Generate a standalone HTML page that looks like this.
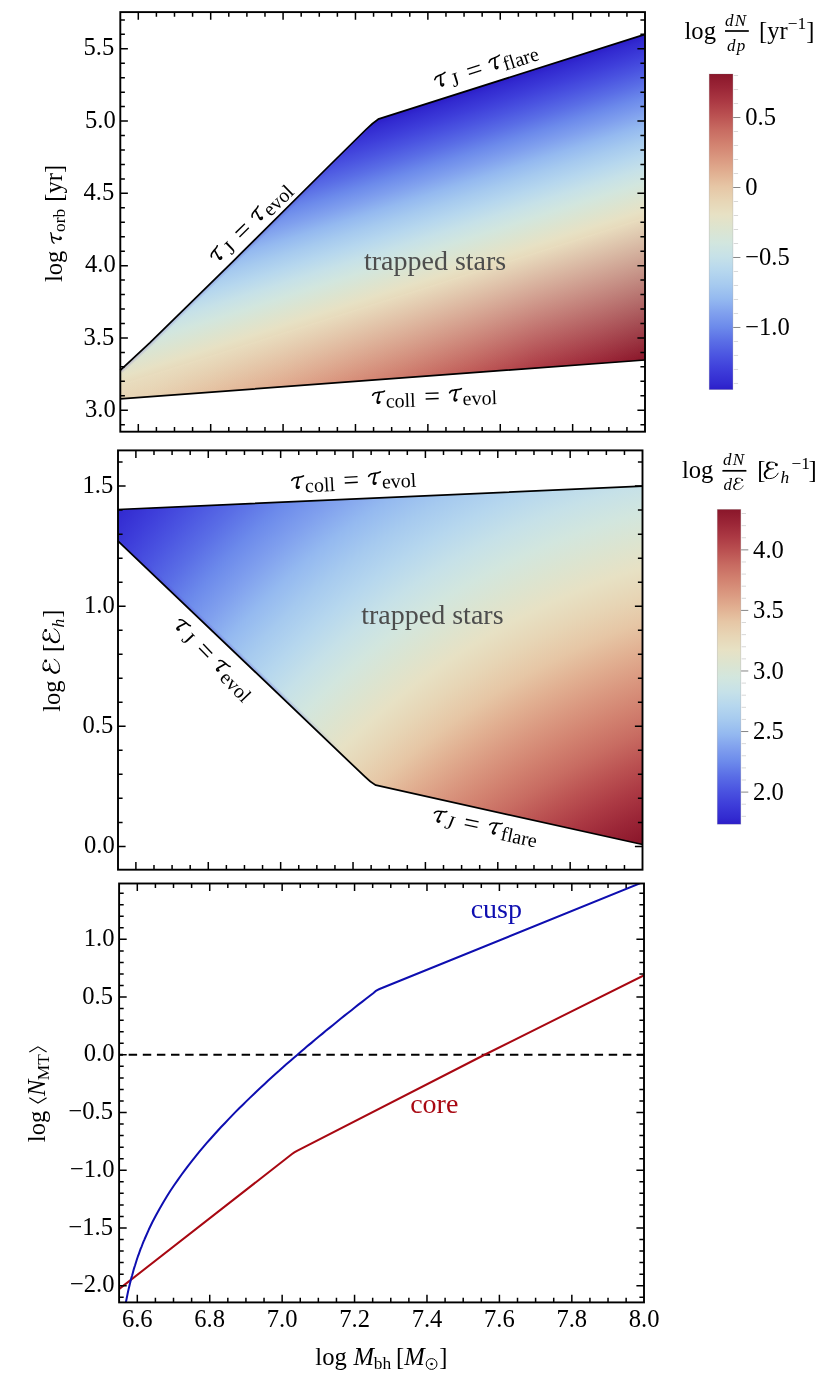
<!DOCTYPE html><html><head><meta charset="utf-8"><title>figure</title><style>
html,body{margin:0;padding:0;background:#fff}body{width:830px;height:1396px;overflow:hidden;position:relative}
svg{will-change:transform}svg,.g{position:absolute;left:0;top:0;display:block}.g{width:830px;height:1396px}
text{font-family:"Liberation Serif",serif;font-size:24.6px;fill:#000;white-space:pre}
.it{font-style:italic}.sub{font-size:17.4px}.lab{font-size:28px}.lsub{font-size:20px}
</style></head><body>
<svg width="830" height="1396" viewBox="0 0 830 1396"><defs>
<linearGradient id="cb" x1="0" y1="1" x2="0" y2="0"><stop offset="0.0000" stop-color="rgb(44,30,200)"/><stop offset="0.0196" stop-color="rgb(50,42,208)"/><stop offset="0.0642" stop-color="rgb(62,62,218)"/><stop offset="0.1087" stop-color="rgb(75,85,225)"/><stop offset="0.1533" stop-color="rgb(90,110,230)"/><stop offset="0.1979" stop-color="rgb(108,138,235)"/><stop offset="0.2424" stop-color="rgb(128,160,238)"/><stop offset="0.2870" stop-color="rgb(148,185,240)"/><stop offset="0.3316" stop-color="rgb(166,202,239)"/><stop offset="0.3761" stop-color="rgb(182,215,238)"/><stop offset="0.4207" stop-color="rgb(198,225,232)"/><stop offset="0.4652" stop-color="rgb(210,230,222)"/><stop offset="0.5098" stop-color="rgb(220,228,208)"/><stop offset="0.5544" stop-color="rgb(231,225,196)"/><stop offset="0.5989" stop-color="rgb(231,213,181)"/><stop offset="0.6435" stop-color="rgb(230,198,165)"/><stop offset="0.6881" stop-color="rgb(225,175,145)"/><stop offset="0.7326" stop-color="rgb(218,152,128)"/><stop offset="0.7772" stop-color="rgb(210,130,112)"/><stop offset="0.8217" stop-color="rgb(200,108,98)"/><stop offset="0.8663" stop-color="rgb(187,82,82)"/><stop offset="0.9109" stop-color="rgb(172,58,68)"/><stop offset="0.9554" stop-color="rgb(155,38,55)"/><stop offset="1.0000" stop-color="rgb(138,22,42)"/></linearGradient>
<linearGradient id="g1" gradientUnits="userSpaceOnUse" x1="645.00" y1="34.30" x2="736.77" y2="322.62"><stop offset="0.0000" stop-color="rgb(44,30,200)"/><stop offset="0.0196" stop-color="rgb(50,42,208)"/><stop offset="0.0642" stop-color="rgb(62,62,218)"/><stop offset="0.1087" stop-color="rgb(75,85,225)"/><stop offset="0.1533" stop-color="rgb(90,110,230)"/><stop offset="0.1979" stop-color="rgb(108,138,235)"/><stop offset="0.2424" stop-color="rgb(128,160,238)"/><stop offset="0.2870" stop-color="rgb(148,185,240)"/><stop offset="0.3316" stop-color="rgb(166,202,239)"/><stop offset="0.3761" stop-color="rgb(182,215,238)"/><stop offset="0.4207" stop-color="rgb(198,225,232)"/><stop offset="0.4652" stop-color="rgb(210,230,222)"/><stop offset="0.5098" stop-color="rgb(220,228,208)"/><stop offset="0.5544" stop-color="rgb(231,225,196)"/><stop offset="0.5989" stop-color="rgb(231,213,181)"/><stop offset="0.6435" stop-color="rgb(230,198,165)"/><stop offset="0.6881" stop-color="rgb(225,175,145)"/><stop offset="0.7326" stop-color="rgb(218,152,128)"/><stop offset="0.7772" stop-color="rgb(210,130,112)"/><stop offset="0.8217" stop-color="rgb(200,108,98)"/><stop offset="0.8663" stop-color="rgb(187,82,82)"/><stop offset="0.9109" stop-color="rgb(172,58,68)"/><stop offset="0.9554" stop-color="rgb(155,38,55)"/><stop offset="1.0000" stop-color="rgb(138,22,42)"/></linearGradient>
<clipPath id="c1"><path d="M120.2 370.3 L150 342.6 L234.3 260 L330 165 L366 129.5 Q372.5 123 378.2 119.2 L645 34.3 L645 360 L120.2 398.8 Z"/></clipPath>
<clipPath id="c2"><path d="M117.8 509.5 L642.6 486.1 L642.6 844.5 L375.8 785.2 Q370 782 364.9 776.7 L117.8 540.8 Z"/></clipPath>
<linearGradient id="cmv"><stop offset="0.0000" stop-color="rgb(44,30,200)"/><stop offset="0.0196" stop-color="rgb(50,42,208)"/><stop offset="0.0642" stop-color="rgb(62,62,218)"/><stop offset="0.1087" stop-color="rgb(75,85,225)"/><stop offset="0.1533" stop-color="rgb(90,110,230)"/><stop offset="0.1979" stop-color="rgb(108,138,235)"/><stop offset="0.2424" stop-color="rgb(128,160,238)"/><stop offset="0.2870" stop-color="rgb(148,185,240)"/><stop offset="0.3316" stop-color="rgb(166,202,239)"/><stop offset="0.3761" stop-color="rgb(182,215,238)"/><stop offset="0.4207" stop-color="rgb(198,225,232)"/><stop offset="0.4652" stop-color="rgb(210,230,222)"/><stop offset="0.5098" stop-color="rgb(220,228,208)"/><stop offset="0.5544" stop-color="rgb(231,225,196)"/><stop offset="0.5989" stop-color="rgb(231,213,181)"/><stop offset="0.6435" stop-color="rgb(230,198,165)"/><stop offset="0.6881" stop-color="rgb(225,175,145)"/><stop offset="0.7326" stop-color="rgb(218,152,128)"/><stop offset="0.7772" stop-color="rgb(210,130,112)"/><stop offset="0.8217" stop-color="rgb(200,108,98)"/><stop offset="0.8663" stop-color="rgb(187,82,82)"/><stop offset="0.9109" stop-color="rgb(172,58,68)"/><stop offset="0.9554" stop-color="rgb(155,38,55)"/><stop offset="1.0000" stop-color="rgb(138,22,42)"/></linearGradient>
<linearGradient id="q0" href="#cmv" xlink:href="#cmv" gradientUnits="userSpaceOnUse" x1="0" y1="493.4" x2="0" y2="1551.5"/>
<linearGradient id="q1" href="#cmv" xlink:href="#cmv" gradientUnits="userSpaceOnUse" x1="0" y1="490.8" x2="0" y2="1546.0"/>
<linearGradient id="q2" href="#cmv" xlink:href="#cmv" gradientUnits="userSpaceOnUse" x1="0" y1="488.2" x2="0" y2="1540.6"/>
<linearGradient id="q3" href="#cmv" xlink:href="#cmv" gradientUnits="userSpaceOnUse" x1="0" y1="485.6" x2="0" y2="1535.1"/>
<linearGradient id="q4" href="#cmv" xlink:href="#cmv" gradientUnits="userSpaceOnUse" x1="0" y1="483.0" x2="0" y2="1529.8"/>
<linearGradient id="q5" href="#cmv" xlink:href="#cmv" gradientUnits="userSpaceOnUse" x1="0" y1="480.5" x2="0" y2="1524.4"/>
<linearGradient id="q6" href="#cmv" xlink:href="#cmv" gradientUnits="userSpaceOnUse" x1="0" y1="478.0" x2="0" y2="1519.1"/>
<linearGradient id="q7" href="#cmv" xlink:href="#cmv" gradientUnits="userSpaceOnUse" x1="0" y1="475.5" x2="0" y2="1513.8"/>
<linearGradient id="q8" href="#cmv" xlink:href="#cmv" gradientUnits="userSpaceOnUse" x1="0" y1="473.0" x2="0" y2="1508.5"/>
<linearGradient id="q9" href="#cmv" xlink:href="#cmv" gradientUnits="userSpaceOnUse" x1="0" y1="470.5" x2="0" y2="1503.3"/>
<linearGradient id="q10" href="#cmv" xlink:href="#cmv" gradientUnits="userSpaceOnUse" x1="0" y1="468.1" x2="0" y2="1498.1"/>
<linearGradient id="q11" href="#cmv" xlink:href="#cmv" gradientUnits="userSpaceOnUse" x1="0" y1="465.7" x2="0" y2="1493.0"/>
<linearGradient id="q12" href="#cmv" xlink:href="#cmv" gradientUnits="userSpaceOnUse" x1="0" y1="463.3" x2="0" y2="1487.9"/>
<linearGradient id="q13" href="#cmv" xlink:href="#cmv" gradientUnits="userSpaceOnUse" x1="0" y1="460.9" x2="0" y2="1482.8"/>
<linearGradient id="q14" href="#cmv" xlink:href="#cmv" gradientUnits="userSpaceOnUse" x1="0" y1="458.5" x2="0" y2="1477.8"/>
<linearGradient id="q15" href="#cmv" xlink:href="#cmv" gradientUnits="userSpaceOnUse" x1="0" y1="456.1" x2="0" y2="1472.7"/>
<linearGradient id="q16" href="#cmv" xlink:href="#cmv" gradientUnits="userSpaceOnUse" x1="0" y1="453.8" x2="0" y2="1467.8"/>
<linearGradient id="q17" href="#cmv" xlink:href="#cmv" gradientUnits="userSpaceOnUse" x1="0" y1="451.5" x2="0" y2="1462.8"/>
<linearGradient id="q18" href="#cmv" xlink:href="#cmv" gradientUnits="userSpaceOnUse" x1="0" y1="449.2" x2="0" y2="1457.9"/>
<linearGradient id="q19" href="#cmv" xlink:href="#cmv" gradientUnits="userSpaceOnUse" x1="0" y1="446.9" x2="0" y2="1453.0"/>
<linearGradient id="q20" href="#cmv" xlink:href="#cmv" gradientUnits="userSpaceOnUse" x1="0" y1="444.7" x2="0" y2="1448.1"/>
<linearGradient id="q21" href="#cmv" xlink:href="#cmv" gradientUnits="userSpaceOnUse" x1="0" y1="442.4" x2="0" y2="1443.3"/>
<linearGradient id="q22" href="#cmv" xlink:href="#cmv" gradientUnits="userSpaceOnUse" x1="0" y1="440.2" x2="0" y2="1438.5"/>
<linearGradient id="q23" href="#cmv" xlink:href="#cmv" gradientUnits="userSpaceOnUse" x1="0" y1="438.0" x2="0" y2="1433.8"/>
<linearGradient id="q24" href="#cmv" xlink:href="#cmv" gradientUnits="userSpaceOnUse" x1="0" y1="435.8" x2="0" y2="1429.0"/>
<linearGradient id="q25" href="#cmv" xlink:href="#cmv" gradientUnits="userSpaceOnUse" x1="0" y1="433.7" x2="0" y2="1424.3"/>
<linearGradient id="q26" href="#cmv" xlink:href="#cmv" gradientUnits="userSpaceOnUse" x1="0" y1="431.5" x2="0" y2="1419.7"/>
<linearGradient id="q27" href="#cmv" xlink:href="#cmv" gradientUnits="userSpaceOnUse" x1="0" y1="429.4" x2="0" y2="1415.0"/>
<linearGradient id="q28" href="#cmv" xlink:href="#cmv" gradientUnits="userSpaceOnUse" x1="0" y1="427.3" x2="0" y2="1410.4"/>
<linearGradient id="q29" href="#cmv" xlink:href="#cmv" gradientUnits="userSpaceOnUse" x1="0" y1="425.2" x2="0" y2="1405.8"/>
<linearGradient id="q30" href="#cmv" xlink:href="#cmv" gradientUnits="userSpaceOnUse" x1="0" y1="423.1" x2="0" y2="1401.3"/>
<linearGradient id="q31" href="#cmv" xlink:href="#cmv" gradientUnits="userSpaceOnUse" x1="0" y1="421.0" x2="0" y2="1396.8"/>
<linearGradient id="q32" href="#cmv" xlink:href="#cmv" gradientUnits="userSpaceOnUse" x1="0" y1="419.0" x2="0" y2="1392.3"/>
<linearGradient id="q33" href="#cmv" xlink:href="#cmv" gradientUnits="userSpaceOnUse" x1="0" y1="416.9" x2="0" y2="1387.8"/>
<linearGradient id="q34" href="#cmv" xlink:href="#cmv" gradientUnits="userSpaceOnUse" x1="0" y1="414.9" x2="0" y2="1383.4"/>
<linearGradient id="q35" href="#cmv" xlink:href="#cmv" gradientUnits="userSpaceOnUse" x1="0" y1="412.9" x2="0" y2="1379.0"/>
<linearGradient id="q36" href="#cmv" xlink:href="#cmv" gradientUnits="userSpaceOnUse" x1="0" y1="410.9" x2="0" y2="1374.6"/>
<linearGradient id="q37" href="#cmv" xlink:href="#cmv" gradientUnits="userSpaceOnUse" x1="0" y1="409.0" x2="0" y2="1370.2"/>
<linearGradient id="q38" href="#cmv" xlink:href="#cmv" gradientUnits="userSpaceOnUse" x1="0" y1="407.0" x2="0" y2="1365.9"/>
<linearGradient id="q39" href="#cmv" xlink:href="#cmv" gradientUnits="userSpaceOnUse" x1="0" y1="405.1" x2="0" y2="1361.6"/>
<linearGradient id="q40" href="#cmv" xlink:href="#cmv" gradientUnits="userSpaceOnUse" x1="0" y1="403.2" x2="0" y2="1357.4"/>
<linearGradient id="q41" href="#cmv" xlink:href="#cmv" gradientUnits="userSpaceOnUse" x1="0" y1="401.3" x2="0" y2="1353.1"/>
<linearGradient id="q42" href="#cmv" xlink:href="#cmv" gradientUnits="userSpaceOnUse" x1="0" y1="399.4" x2="0" y2="1348.9"/>
<linearGradient id="q43" href="#cmv" xlink:href="#cmv" gradientUnits="userSpaceOnUse" x1="0" y1="397.5" x2="0" y2="1344.7"/>
<linearGradient id="q44" href="#cmv" xlink:href="#cmv" gradientUnits="userSpaceOnUse" x1="0" y1="395.6" x2="0" y2="1340.5"/>
<linearGradient id="q45" href="#cmv" xlink:href="#cmv" gradientUnits="userSpaceOnUse" x1="0" y1="393.8" x2="0" y2="1336.4"/>
<linearGradient id="q46" href="#cmv" xlink:href="#cmv" gradientUnits="userSpaceOnUse" x1="0" y1="392.0" x2="0" y2="1332.3"/>
<linearGradient id="q47" href="#cmv" xlink:href="#cmv" gradientUnits="userSpaceOnUse" x1="0" y1="390.1" x2="0" y2="1328.2"/>
<linearGradient id="q48" href="#cmv" xlink:href="#cmv" gradientUnits="userSpaceOnUse" x1="0" y1="388.3" x2="0" y2="1324.2"/>
<linearGradient id="q49" href="#cmv" xlink:href="#cmv" gradientUnits="userSpaceOnUse" x1="0" y1="386.6" x2="0" y2="1320.1"/>
<linearGradient id="q50" href="#cmv" xlink:href="#cmv" gradientUnits="userSpaceOnUse" x1="0" y1="384.8" x2="0" y2="1316.1"/>
<linearGradient id="q51" href="#cmv" xlink:href="#cmv" gradientUnits="userSpaceOnUse" x1="0" y1="383.0" x2="0" y2="1312.1"/>
<linearGradient id="q52" href="#cmv" xlink:href="#cmv" gradientUnits="userSpaceOnUse" x1="0" y1="381.3" x2="0" y2="1308.2"/>
<linearGradient id="q53" href="#cmv" xlink:href="#cmv" gradientUnits="userSpaceOnUse" x1="0" y1="379.6" x2="0" y2="1304.2"/>
<linearGradient id="q54" href="#cmv" xlink:href="#cmv" gradientUnits="userSpaceOnUse" x1="0" y1="377.9" x2="0" y2="1300.3"/>
<linearGradient id="q55" href="#cmv" xlink:href="#cmv" gradientUnits="userSpaceOnUse" x1="0" y1="376.2" x2="0" y2="1296.4"/>
<linearGradient id="q56" href="#cmv" xlink:href="#cmv" gradientUnits="userSpaceOnUse" x1="0" y1="374.5" x2="0" y2="1292.6"/>
<linearGradient id="q57" href="#cmv" xlink:href="#cmv" gradientUnits="userSpaceOnUse" x1="0" y1="372.8" x2="0" y2="1288.7"/>
<linearGradient id="q58" href="#cmv" xlink:href="#cmv" gradientUnits="userSpaceOnUse" x1="0" y1="371.1" x2="0" y2="1284.9"/>
<linearGradient id="q59" href="#cmv" xlink:href="#cmv" gradientUnits="userSpaceOnUse" x1="0" y1="369.5" x2="0" y2="1281.1"/>
<linearGradient id="q60" href="#cmv" xlink:href="#cmv" gradientUnits="userSpaceOnUse" x1="0" y1="367.9" x2="0" y2="1277.4"/>
<linearGradient id="q61" href="#cmv" xlink:href="#cmv" gradientUnits="userSpaceOnUse" x1="0" y1="366.2" x2="0" y2="1273.6"/>
<linearGradient id="q62" href="#cmv" xlink:href="#cmv" gradientUnits="userSpaceOnUse" x1="0" y1="364.6" x2="0" y2="1269.9"/>
<linearGradient id="q63" href="#cmv" xlink:href="#cmv" gradientUnits="userSpaceOnUse" x1="0" y1="363.0" x2="0" y2="1266.2"/>
<linearGradient id="q64" href="#cmv" xlink:href="#cmv" gradientUnits="userSpaceOnUse" x1="0" y1="361.5" x2="0" y2="1262.6"/>
<linearGradient id="q65" href="#cmv" xlink:href="#cmv" gradientUnits="userSpaceOnUse" x1="0" y1="359.9" x2="0" y2="1258.9"/>
<linearGradient id="q66" href="#cmv" xlink:href="#cmv" gradientUnits="userSpaceOnUse" x1="0" y1="358.4" x2="0" y2="1255.3"/>
<linearGradient id="q67" href="#cmv" xlink:href="#cmv" gradientUnits="userSpaceOnUse" x1="0" y1="356.8" x2="0" y2="1251.7"/>
<linearGradient id="q68" href="#cmv" xlink:href="#cmv" gradientUnits="userSpaceOnUse" x1="0" y1="355.3" x2="0" y2="1248.1"/>
<linearGradient id="q69" href="#cmv" xlink:href="#cmv" gradientUnits="userSpaceOnUse" x1="0" y1="353.8" x2="0" y2="1244.5"/>
<linearGradient id="q70" href="#cmv" xlink:href="#cmv" gradientUnits="userSpaceOnUse" x1="0" y1="352.3" x2="0" y2="1241.0"/>
<linearGradient id="q71" href="#cmv" xlink:href="#cmv" gradientUnits="userSpaceOnUse" x1="0" y1="350.8" x2="0" y2="1237.5"/>
<linearGradient id="q72" href="#cmv" xlink:href="#cmv" gradientUnits="userSpaceOnUse" x1="0" y1="349.3" x2="0" y2="1234.0"/>
<linearGradient id="q73" href="#cmv" xlink:href="#cmv" gradientUnits="userSpaceOnUse" x1="0" y1="347.8" x2="0" y2="1230.5"/>
<linearGradient id="q74" href="#cmv" xlink:href="#cmv" gradientUnits="userSpaceOnUse" x1="0" y1="346.4" x2="0" y2="1227.1"/>
<linearGradient id="q75" href="#cmv" xlink:href="#cmv" gradientUnits="userSpaceOnUse" x1="0" y1="345.0" x2="0" y2="1223.6"/>
<linearGradient id="q76" href="#cmv" xlink:href="#cmv" gradientUnits="userSpaceOnUse" x1="0" y1="343.5" x2="0" y2="1220.2"/>
<linearGradient id="q77" href="#cmv" xlink:href="#cmv" gradientUnits="userSpaceOnUse" x1="0" y1="342.1" x2="0" y2="1216.8"/>
<linearGradient id="q78" href="#cmv" xlink:href="#cmv" gradientUnits="userSpaceOnUse" x1="0" y1="340.7" x2="0" y2="1213.5"/>
<linearGradient id="q79" href="#cmv" xlink:href="#cmv" gradientUnits="userSpaceOnUse" x1="0" y1="339.3" x2="0" y2="1210.1"/>
<linearGradient id="q80" href="#cmv" xlink:href="#cmv" gradientUnits="userSpaceOnUse" x1="0" y1="337.9" x2="0" y2="1206.8"/>
<linearGradient id="q81" href="#cmv" xlink:href="#cmv" gradientUnits="userSpaceOnUse" x1="0" y1="336.6" x2="0" y2="1203.5"/>
<linearGradient id="q82" href="#cmv" xlink:href="#cmv" gradientUnits="userSpaceOnUse" x1="0" y1="335.2" x2="0" y2="1200.2"/>
<linearGradient id="q83" href="#cmv" xlink:href="#cmv" gradientUnits="userSpaceOnUse" x1="0" y1="333.9" x2="0" y2="1196.9"/>
<linearGradient id="q84" href="#cmv" xlink:href="#cmv" gradientUnits="userSpaceOnUse" x1="0" y1="332.5" x2="0" y2="1193.7"/>
<linearGradient id="q85" href="#cmv" xlink:href="#cmv" gradientUnits="userSpaceOnUse" x1="0" y1="331.2" x2="0" y2="1190.5"/>
<linearGradient id="q86" href="#cmv" xlink:href="#cmv" gradientUnits="userSpaceOnUse" x1="0" y1="329.9" x2="0" y2="1187.3"/>
<linearGradient id="q87" href="#cmv" xlink:href="#cmv" gradientUnits="userSpaceOnUse" x1="0" y1="328.6" x2="0" y2="1184.1"/>
<linearGradient id="q88" href="#cmv" xlink:href="#cmv" gradientUnits="userSpaceOnUse" x1="0" y1="327.3" x2="0" y2="1180.9"/>
<linearGradient id="q89" href="#cmv" xlink:href="#cmv" gradientUnits="userSpaceOnUse" x1="0" y1="326.0" x2="0" y2="1177.8"/>
<linearGradient id="q90" href="#cmv" xlink:href="#cmv" gradientUnits="userSpaceOnUse" x1="0" y1="324.8" x2="0" y2="1174.6"/>
<linearGradient id="q91" href="#cmv" xlink:href="#cmv" gradientUnits="userSpaceOnUse" x1="0" y1="323.5" x2="0" y2="1171.5"/>
<linearGradient id="q92" href="#cmv" xlink:href="#cmv" gradientUnits="userSpaceOnUse" x1="0" y1="322.3" x2="0" y2="1168.4"/>
<linearGradient id="q93" href="#cmv" xlink:href="#cmv" gradientUnits="userSpaceOnUse" x1="0" y1="321.0" x2="0" y2="1165.4"/>
<linearGradient id="q94" href="#cmv" xlink:href="#cmv" gradientUnits="userSpaceOnUse" x1="0" y1="319.8" x2="0" y2="1162.3"/>
<linearGradient id="q95" href="#cmv" xlink:href="#cmv" gradientUnits="userSpaceOnUse" x1="0" y1="318.6" x2="0" y2="1159.3"/>
<linearGradient id="q96" href="#cmv" xlink:href="#cmv" gradientUnits="userSpaceOnUse" x1="0" y1="317.4" x2="0" y2="1156.3"/>
<linearGradient id="q97" href="#cmv" xlink:href="#cmv" gradientUnits="userSpaceOnUse" x1="0" y1="316.2" x2="0" y2="1153.3"/>
<linearGradient id="q98" href="#cmv" xlink:href="#cmv" gradientUnits="userSpaceOnUse" x1="0" y1="315.0" x2="0" y2="1150.3"/>
<linearGradient id="q99" href="#cmv" xlink:href="#cmv" gradientUnits="userSpaceOnUse" x1="0" y1="313.9" x2="0" y2="1147.3"/>
<linearGradient id="q100" href="#cmv" xlink:href="#cmv" gradientUnits="userSpaceOnUse" x1="0" y1="312.7" x2="0" y2="1144.4"/>
<linearGradient id="q101" href="#cmv" xlink:href="#cmv" gradientUnits="userSpaceOnUse" x1="0" y1="311.6" x2="0" y2="1141.4"/>
<linearGradient id="q102" href="#cmv" xlink:href="#cmv" gradientUnits="userSpaceOnUse" x1="0" y1="310.4" x2="0" y2="1138.5"/>
<linearGradient id="q103" href="#cmv" xlink:href="#cmv" gradientUnits="userSpaceOnUse" x1="0" y1="309.3" x2="0" y2="1135.6"/>
<linearGradient id="q104" href="#cmv" xlink:href="#cmv" gradientUnits="userSpaceOnUse" x1="0" y1="308.2" x2="0" y2="1132.8"/>
<linearGradient id="q105" href="#cmv" xlink:href="#cmv" gradientUnits="userSpaceOnUse" x1="0" y1="307.1" x2="0" y2="1129.9"/>
<linearGradient id="q106" href="#cmv" xlink:href="#cmv" gradientUnits="userSpaceOnUse" x1="0" y1="306.0" x2="0" y2="1127.1"/>
<linearGradient id="q107" href="#cmv" xlink:href="#cmv" gradientUnits="userSpaceOnUse" x1="0" y1="304.9" x2="0" y2="1124.3"/>
<linearGradient id="q108" href="#cmv" xlink:href="#cmv" gradientUnits="userSpaceOnUse" x1="0" y1="303.8" x2="0" y2="1121.5"/>
<linearGradient id="q109" href="#cmv" xlink:href="#cmv" gradientUnits="userSpaceOnUse" x1="0" y1="302.7" x2="0" y2="1118.7"/>
<linearGradient id="q110" href="#cmv" xlink:href="#cmv" gradientUnits="userSpaceOnUse" x1="0" y1="301.7" x2="0" y2="1115.9"/>
<linearGradient id="q111" href="#cmv" xlink:href="#cmv" gradientUnits="userSpaceOnUse" x1="0" y1="300.6" x2="0" y2="1113.2"/>
<linearGradient id="q112" href="#cmv" xlink:href="#cmv" gradientUnits="userSpaceOnUse" x1="0" y1="299.6" x2="0" y2="1110.4"/>
<linearGradient id="q113" href="#cmv" xlink:href="#cmv" gradientUnits="userSpaceOnUse" x1="0" y1="298.5" x2="0" y2="1107.7"/>
<linearGradient id="q114" href="#cmv" xlink:href="#cmv" gradientUnits="userSpaceOnUse" x1="0" y1="297.5" x2="0" y2="1105.0"/>
<linearGradient id="q115" href="#cmv" xlink:href="#cmv" gradientUnits="userSpaceOnUse" x1="0" y1="296.5" x2="0" y2="1102.3"/>
<linearGradient id="q116" href="#cmv" xlink:href="#cmv" gradientUnits="userSpaceOnUse" x1="0" y1="295.5" x2="0" y2="1099.6"/>
<linearGradient id="q117" href="#cmv" xlink:href="#cmv" gradientUnits="userSpaceOnUse" x1="0" y1="294.5" x2="0" y2="1097.0"/>
<linearGradient id="q118" href="#cmv" xlink:href="#cmv" gradientUnits="userSpaceOnUse" x1="0" y1="293.5" x2="0" y2="1094.3"/>
<linearGradient id="q119" href="#cmv" xlink:href="#cmv" gradientUnits="userSpaceOnUse" x1="0" y1="292.6" x2="0" y2="1091.7"/>
<linearGradient id="q120" href="#cmv" xlink:href="#cmv" gradientUnits="userSpaceOnUse" x1="0" y1="291.6" x2="0" y2="1089.1"/>
<linearGradient id="q121" href="#cmv" xlink:href="#cmv" gradientUnits="userSpaceOnUse" x1="0" y1="290.6" x2="0" y2="1086.5"/>
<linearGradient id="q122" href="#cmv" xlink:href="#cmv" gradientUnits="userSpaceOnUse" x1="0" y1="289.7" x2="0" y2="1084.0"/>
<linearGradient id="q123" href="#cmv" xlink:href="#cmv" gradientUnits="userSpaceOnUse" x1="0" y1="288.7" x2="0" y2="1081.4"/>
<linearGradient id="q124" href="#cmv" xlink:href="#cmv" gradientUnits="userSpaceOnUse" x1="0" y1="287.8" x2="0" y2="1078.9"/>
<linearGradient id="q125" href="#cmv" xlink:href="#cmv" gradientUnits="userSpaceOnUse" x1="0" y1="286.9" x2="0" y2="1076.3"/>
<linearGradient id="q126" href="#cmv" xlink:href="#cmv" gradientUnits="userSpaceOnUse" x1="0" y1="286.0" x2="0" y2="1073.8"/>
<linearGradient id="q127" href="#cmv" xlink:href="#cmv" gradientUnits="userSpaceOnUse" x1="0" y1="285.1" x2="0" y2="1071.3"/>
<linearGradient id="q128" href="#cmv" xlink:href="#cmv" gradientUnits="userSpaceOnUse" x1="0" y1="284.2" x2="0" y2="1068.8"/>
<linearGradient id="q129" href="#cmv" xlink:href="#cmv" gradientUnits="userSpaceOnUse" x1="0" y1="283.3" x2="0" y2="1066.4"/>
<linearGradient id="q130" href="#cmv" xlink:href="#cmv" gradientUnits="userSpaceOnUse" x1="0" y1="282.4" x2="0" y2="1063.9"/>
<linearGradient id="q131" href="#cmv" xlink:href="#cmv" gradientUnits="userSpaceOnUse" x1="0" y1="281.5" x2="0" y2="1061.5"/>
<linearGradient id="q132" href="#cmv" xlink:href="#cmv" gradientUnits="userSpaceOnUse" x1="0" y1="280.7" x2="0" y2="1059.0"/>
<linearGradient id="q133" href="#cmv" xlink:href="#cmv" gradientUnits="userSpaceOnUse" x1="0" y1="279.8" x2="0" y2="1056.6"/>
<linearGradient id="q134" href="#cmv" xlink:href="#cmv" gradientUnits="userSpaceOnUse" x1="0" y1="279.0" x2="0" y2="1054.2"/>
<linearGradient id="q135" href="#cmv" xlink:href="#cmv" gradientUnits="userSpaceOnUse" x1="0" y1="278.1" x2="0" y2="1051.9"/>
<linearGradient id="q136" href="#cmv" xlink:href="#cmv" gradientUnits="userSpaceOnUse" x1="0" y1="277.3" x2="0" y2="1049.5"/>
<linearGradient id="q137" href="#cmv" xlink:href="#cmv" gradientUnits="userSpaceOnUse" x1="0" y1="276.5" x2="0" y2="1047.2"/>
<linearGradient id="q138" href="#cmv" xlink:href="#cmv" gradientUnits="userSpaceOnUse" x1="0" y1="275.7" x2="0" y2="1044.8"/>
<linearGradient id="q139" href="#cmv" xlink:href="#cmv" gradientUnits="userSpaceOnUse" x1="0" y1="274.9" x2="0" y2="1042.5"/>
<linearGradient id="q140" href="#cmv" xlink:href="#cmv" gradientUnits="userSpaceOnUse" x1="0" y1="274.1" x2="0" y2="1040.2"/>
<linearGradient id="q141" href="#cmv" xlink:href="#cmv" gradientUnits="userSpaceOnUse" x1="0" y1="273.3" x2="0" y2="1037.9"/>
<linearGradient id="q142" href="#cmv" xlink:href="#cmv" gradientUnits="userSpaceOnUse" x1="0" y1="272.5" x2="0" y2="1035.6"/>
<linearGradient id="q143" href="#cmv" xlink:href="#cmv" gradientUnits="userSpaceOnUse" x1="0" y1="271.8" x2="0" y2="1033.3"/>
<linearGradient id="q144" href="#cmv" xlink:href="#cmv" gradientUnits="userSpaceOnUse" x1="0" y1="271.0" x2="0" y2="1031.1"/>
<linearGradient id="q145" href="#cmv" xlink:href="#cmv" gradientUnits="userSpaceOnUse" x1="0" y1="270.2" x2="0" y2="1028.8"/>
<linearGradient id="q146" href="#cmv" xlink:href="#cmv" gradientUnits="userSpaceOnUse" x1="0" y1="269.5" x2="0" y2="1026.6"/>
<linearGradient id="q147" href="#cmv" xlink:href="#cmv" gradientUnits="userSpaceOnUse" x1="0" y1="268.7" x2="0" y2="1024.4"/>
<linearGradient id="q148" href="#cmv" xlink:href="#cmv" gradientUnits="userSpaceOnUse" x1="0" y1="268.0" x2="0" y2="1022.2"/>
<linearGradient id="q149" href="#cmv" xlink:href="#cmv" gradientUnits="userSpaceOnUse" x1="0" y1="267.3" x2="0" y2="1020.0"/>
<linearGradient id="q150" href="#cmv" xlink:href="#cmv" gradientUnits="userSpaceOnUse" x1="0" y1="266.6" x2="0" y2="1017.9"/>
<linearGradient id="q151" href="#cmv" xlink:href="#cmv" gradientUnits="userSpaceOnUse" x1="0" y1="265.9" x2="0" y2="1015.7"/>
<linearGradient id="q152" href="#cmv" xlink:href="#cmv" gradientUnits="userSpaceOnUse" x1="0" y1="265.2" x2="0" y2="1013.6"/>
<linearGradient id="q153" href="#cmv" xlink:href="#cmv" gradientUnits="userSpaceOnUse" x1="0" y1="264.5" x2="0" y2="1011.4"/>
<linearGradient id="q154" href="#cmv" xlink:href="#cmv" gradientUnits="userSpaceOnUse" x1="0" y1="263.8" x2="0" y2="1009.3"/>
<linearGradient id="q155" href="#cmv" xlink:href="#cmv" gradientUnits="userSpaceOnUse" x1="0" y1="263.1" x2="0" y2="1007.2"/>
<linearGradient id="q156" href="#cmv" xlink:href="#cmv" gradientUnits="userSpaceOnUse" x1="0" y1="262.4" x2="0" y2="1005.1"/>
<linearGradient id="q157" href="#cmv" xlink:href="#cmv" gradientUnits="userSpaceOnUse" x1="0" y1="261.8" x2="0" y2="1003.0"/>
<linearGradient id="q158" href="#cmv" xlink:href="#cmv" gradientUnits="userSpaceOnUse" x1="0" y1="261.1" x2="0" y2="1000.9"/>
<linearGradient id="q159" href="#cmv" xlink:href="#cmv" gradientUnits="userSpaceOnUse" x1="0" y1="260.5" x2="0" y2="998.9"/>
<linearGradient id="q160" href="#cmv" xlink:href="#cmv" gradientUnits="userSpaceOnUse" x1="0" y1="259.8" x2="0" y2="996.8"/>
<linearGradient id="q161" href="#cmv" xlink:href="#cmv" gradientUnits="userSpaceOnUse" x1="0" y1="259.2" x2="0" y2="994.8"/>
<linearGradient id="q162" href="#cmv" xlink:href="#cmv" gradientUnits="userSpaceOnUse" x1="0" y1="258.5" x2="0" y2="992.8"/>
<linearGradient id="q163" href="#cmv" xlink:href="#cmv" gradientUnits="userSpaceOnUse" x1="0" y1="257.9" x2="0" y2="990.8"/>
<linearGradient id="q164" href="#cmv" xlink:href="#cmv" gradientUnits="userSpaceOnUse" x1="0" y1="257.3" x2="0" y2="988.8"/>
<linearGradient id="q165" href="#cmv" xlink:href="#cmv" gradientUnits="userSpaceOnUse" x1="0" y1="256.7" x2="0" y2="986.8"/>
<linearGradient id="q166" href="#cmv" xlink:href="#cmv" gradientUnits="userSpaceOnUse" x1="0" y1="256.1" x2="0" y2="984.8"/>
<linearGradient id="q167" href="#cmv" xlink:href="#cmv" gradientUnits="userSpaceOnUse" x1="0" y1="255.5" x2="0" y2="982.9"/>
<linearGradient id="q168" href="#cmv" xlink:href="#cmv" gradientUnits="userSpaceOnUse" x1="0" y1="254.9" x2="0" y2="980.9"/>
<linearGradient id="q169" href="#cmv" xlink:href="#cmv" gradientUnits="userSpaceOnUse" x1="0" y1="254.3" x2="0" y2="979.0"/>
<linearGradient id="q170" href="#cmv" xlink:href="#cmv" gradientUnits="userSpaceOnUse" x1="0" y1="253.8" x2="0" y2="977.1"/>
<linearGradient id="q171" href="#cmv" xlink:href="#cmv" gradientUnits="userSpaceOnUse" x1="0" y1="253.2" x2="0" y2="975.2"/>
<linearGradient id="q172" href="#cmv" xlink:href="#cmv" gradientUnits="userSpaceOnUse" x1="0" y1="252.6" x2="0" y2="973.3"/>
<linearGradient id="q173" href="#cmv" xlink:href="#cmv" gradientUnits="userSpaceOnUse" x1="0" y1="252.1" x2="0" y2="971.4"/>
<linearGradient id="q174" href="#cmv" xlink:href="#cmv" gradientUnits="userSpaceOnUse" x1="0" y1="251.5" x2="0" y2="969.5"/>
<linearGradient id="q175" href="#cmv" xlink:href="#cmv" gradientUnits="userSpaceOnUse" x1="0" y1="251.0" x2="0" y2="967.6"/>
<linearGradient id="q176" href="#cmv" xlink:href="#cmv" gradientUnits="userSpaceOnUse" x1="0" y1="250.5" x2="0" y2="965.8"/>
<linearGradient id="q177" href="#cmv" xlink:href="#cmv" gradientUnits="userSpaceOnUse" x1="0" y1="249.9" x2="0" y2="964.0"/>
<linearGradient id="q178" href="#cmv" xlink:href="#cmv" gradientUnits="userSpaceOnUse" x1="0" y1="249.4" x2="0" y2="962.1"/>
<linearGradient id="q179" href="#cmv" xlink:href="#cmv" gradientUnits="userSpaceOnUse" x1="0" y1="248.9" x2="0" y2="960.3"/>
<linearGradient id="q180" href="#cmv" xlink:href="#cmv" gradientUnits="userSpaceOnUse" x1="0" y1="248.4" x2="0" y2="958.5"/>
<linearGradient id="q181" href="#cmv" xlink:href="#cmv" gradientUnits="userSpaceOnUse" x1="0" y1="247.9" x2="0" y2="956.7"/>
<linearGradient id="q182" href="#cmv" xlink:href="#cmv" gradientUnits="userSpaceOnUse" x1="0" y1="247.4" x2="0" y2="954.9"/>
<linearGradient id="q183" href="#cmv" xlink:href="#cmv" gradientUnits="userSpaceOnUse" x1="0" y1="246.9" x2="0" y2="953.1"/>
<linearGradient id="q184" href="#cmv" xlink:href="#cmv" gradientUnits="userSpaceOnUse" x1="0" y1="246.4" x2="0" y2="951.4"/>
<linearGradient id="q185" href="#cmv" xlink:href="#cmv" gradientUnits="userSpaceOnUse" x1="0" y1="246.0" x2="0" y2="949.6"/>
<linearGradient id="q186" href="#cmv" xlink:href="#cmv" gradientUnits="userSpaceOnUse" x1="0" y1="245.5" x2="0" y2="947.9"/>
<linearGradient id="q187" href="#cmv" xlink:href="#cmv" gradientUnits="userSpaceOnUse" x1="0" y1="245.0" x2="0" y2="946.2"/>
<linearGradient id="q188" href="#cmv" xlink:href="#cmv" gradientUnits="userSpaceOnUse" x1="0" y1="244.6" x2="0" y2="944.4"/>
<linearGradient id="q189" href="#cmv" xlink:href="#cmv" gradientUnits="userSpaceOnUse" x1="0" y1="244.1" x2="0" y2="942.7"/>
<linearGradient id="q190" href="#cmv" xlink:href="#cmv" gradientUnits="userSpaceOnUse" x1="0" y1="243.7" x2="0" y2="941.0"/>
<linearGradient id="q191" href="#cmv" xlink:href="#cmv" gradientUnits="userSpaceOnUse" x1="0" y1="243.2" x2="0" y2="939.3"/>
<linearGradient id="q192" href="#cmv" xlink:href="#cmv" gradientUnits="userSpaceOnUse" x1="0" y1="242.8" x2="0" y2="937.7"/>
<linearGradient id="q193" href="#cmv" xlink:href="#cmv" gradientUnits="userSpaceOnUse" x1="0" y1="242.4" x2="0" y2="936.0"/>
<linearGradient id="q194" href="#cmv" xlink:href="#cmv" gradientUnits="userSpaceOnUse" x1="0" y1="241.9" x2="0" y2="934.3"/>
<linearGradient id="q195" href="#cmv" xlink:href="#cmv" gradientUnits="userSpaceOnUse" x1="0" y1="241.5" x2="0" y2="932.7"/>
<linearGradient id="q196" href="#cmv" xlink:href="#cmv" gradientUnits="userSpaceOnUse" x1="0" y1="241.1" x2="0" y2="931.0"/>
<linearGradient id="q197" href="#cmv" xlink:href="#cmv" gradientUnits="userSpaceOnUse" x1="0" y1="240.7" x2="0" y2="929.4"/>
<linearGradient id="q198" href="#cmv" xlink:href="#cmv" gradientUnits="userSpaceOnUse" x1="0" y1="240.3" x2="0" y2="927.8"/>
<linearGradient id="q199" href="#cmv" xlink:href="#cmv" gradientUnits="userSpaceOnUse" x1="0" y1="239.9" x2="0" y2="926.2"/>
<linearGradient id="q200" href="#cmv" xlink:href="#cmv" gradientUnits="userSpaceOnUse" x1="0" y1="239.5" x2="0" y2="924.6"/>
<linearGradient id="q201" href="#cmv" xlink:href="#cmv" gradientUnits="userSpaceOnUse" x1="0" y1="239.2" x2="0" y2="923.0"/>
<linearGradient id="q202" href="#cmv" xlink:href="#cmv" gradientUnits="userSpaceOnUse" x1="0" y1="238.8" x2="0" y2="921.4"/>
<linearGradient id="q203" href="#cmv" xlink:href="#cmv" gradientUnits="userSpaceOnUse" x1="0" y1="238.4" x2="0" y2="919.9"/>
<linearGradient id="q204" href="#cmv" xlink:href="#cmv" gradientUnits="userSpaceOnUse" x1="0" y1="238.1" x2="0" y2="918.3"/>
<linearGradient id="q205" href="#cmv" xlink:href="#cmv" gradientUnits="userSpaceOnUse" x1="0" y1="237.7" x2="0" y2="916.8"/>
<linearGradient id="q206" href="#cmv" xlink:href="#cmv" gradientUnits="userSpaceOnUse" x1="0" y1="237.3" x2="0" y2="915.2"/>
<linearGradient id="q207" href="#cmv" xlink:href="#cmv" gradientUnits="userSpaceOnUse" x1="0" y1="237.0" x2="0" y2="913.7"/>
<linearGradient id="q208" href="#cmv" xlink:href="#cmv" gradientUnits="userSpaceOnUse" x1="0" y1="236.7" x2="0" y2="912.2"/>
<linearGradient id="q209" href="#cmv" xlink:href="#cmv" gradientUnits="userSpaceOnUse" x1="0" y1="236.3" x2="0" y2="910.7"/>
<linearGradient id="q210" href="#cmv" xlink:href="#cmv" gradientUnits="userSpaceOnUse" x1="0" y1="236.0" x2="0" y2="909.2"/>
<linearGradient id="q211" href="#cmv" xlink:href="#cmv" gradientUnits="userSpaceOnUse" x1="0" y1="235.7" x2="0" y2="907.7"/>
<linearGradient id="q212" href="#cmv" xlink:href="#cmv" gradientUnits="userSpaceOnUse" x1="0" y1="235.3" x2="0" y2="906.2"/>
<linearGradient id="q213" href="#cmv" xlink:href="#cmv" gradientUnits="userSpaceOnUse" x1="0" y1="235.0" x2="0" y2="904.7"/>
<linearGradient id="q214" href="#cmv" xlink:href="#cmv" gradientUnits="userSpaceOnUse" x1="0" y1="234.7" x2="0" y2="903.3"/>
<linearGradient id="q215" href="#cmv" xlink:href="#cmv" gradientUnits="userSpaceOnUse" x1="0" y1="234.4" x2="0" y2="901.8"/>
<linearGradient id="q216" href="#cmv" xlink:href="#cmv" gradientUnits="userSpaceOnUse" x1="0" y1="234.1" x2="0" y2="900.4"/>
<linearGradient id="q217" href="#cmv" xlink:href="#cmv" gradientUnits="userSpaceOnUse" x1="0" y1="233.8" x2="0" y2="899.0"/>
<linearGradient id="q218" href="#cmv" xlink:href="#cmv" gradientUnits="userSpaceOnUse" x1="0" y1="233.5" x2="0" y2="897.5"/>
<linearGradient id="q219" href="#cmv" xlink:href="#cmv" gradientUnits="userSpaceOnUse" x1="0" y1="233.3" x2="0" y2="896.1"/>
<linearGradient id="q220" href="#cmv" xlink:href="#cmv" gradientUnits="userSpaceOnUse" x1="0" y1="233.0" x2="0" y2="894.7"/>
<linearGradient id="q221" href="#cmv" xlink:href="#cmv" gradientUnits="userSpaceOnUse" x1="0" y1="232.7" x2="0" y2="893.3"/>
<linearGradient id="q222" href="#cmv" xlink:href="#cmv" gradientUnits="userSpaceOnUse" x1="0" y1="232.4" x2="0" y2="891.9"/>
<linearGradient id="q223" href="#cmv" xlink:href="#cmv" gradientUnits="userSpaceOnUse" x1="0" y1="232.2" x2="0" y2="890.5"/>
<linearGradient id="q224" href="#cmv" xlink:href="#cmv" gradientUnits="userSpaceOnUse" x1="0" y1="231.9" x2="0" y2="889.2"/>
<linearGradient id="q225" href="#cmv" xlink:href="#cmv" gradientUnits="userSpaceOnUse" x1="0" y1="231.7" x2="0" y2="887.8"/>
<linearGradient id="q226" href="#cmv" xlink:href="#cmv" gradientUnits="userSpaceOnUse" x1="0" y1="231.4" x2="0" y2="886.5"/>
<linearGradient id="q227" href="#cmv" xlink:href="#cmv" gradientUnits="userSpaceOnUse" x1="0" y1="231.2" x2="0" y2="885.1"/>
<linearGradient id="q228" href="#cmv" xlink:href="#cmv" gradientUnits="userSpaceOnUse" x1="0" y1="230.9" x2="0" y2="883.8"/>
<linearGradient id="q229" href="#cmv" xlink:href="#cmv" gradientUnits="userSpaceOnUse" x1="0" y1="230.7" x2="0" y2="882.5"/>
<linearGradient id="q230" href="#cmv" xlink:href="#cmv" gradientUnits="userSpaceOnUse" x1="0" y1="230.5" x2="0" y2="881.1"/>
<linearGradient id="q231" href="#cmv" xlink:href="#cmv" gradientUnits="userSpaceOnUse" x1="0" y1="230.3" x2="0" y2="879.8"/>
<linearGradient id="q232" href="#cmv" xlink:href="#cmv" gradientUnits="userSpaceOnUse" x1="0" y1="230.0" x2="0" y2="878.5"/>
<linearGradient id="q233" href="#cmv" xlink:href="#cmv" gradientUnits="userSpaceOnUse" x1="0" y1="229.8" x2="0" y2="877.2"/>
<linearGradient id="q234" href="#cmv" xlink:href="#cmv" gradientUnits="userSpaceOnUse" x1="0" y1="229.6" x2="0" y2="876.0"/>
<linearGradient id="q235" href="#cmv" xlink:href="#cmv" gradientUnits="userSpaceOnUse" x1="0" y1="229.4" x2="0" y2="874.7"/>
<linearGradient id="q236" href="#cmv" xlink:href="#cmv" gradientUnits="userSpaceOnUse" x1="0" y1="229.2" x2="0" y2="873.4"/>
<linearGradient id="q237" href="#cmv" xlink:href="#cmv" gradientUnits="userSpaceOnUse" x1="0" y1="229.0" x2="0" y2="872.2"/>
<linearGradient id="q238" href="#cmv" xlink:href="#cmv" gradientUnits="userSpaceOnUse" x1="0" y1="228.9" x2="0" y2="870.9"/>
<linearGradient id="q239" href="#cmv" xlink:href="#cmv" gradientUnits="userSpaceOnUse" x1="0" y1="228.7" x2="0" y2="869.7"/>
<linearGradient id="q240" href="#cmv" xlink:href="#cmv" gradientUnits="userSpaceOnUse" x1="0" y1="228.5" x2="0" y2="868.4"/>
<linearGradient id="q241" href="#cmv" xlink:href="#cmv" gradientUnits="userSpaceOnUse" x1="0" y1="228.3" x2="0" y2="867.2"/>
<linearGradient id="q242" href="#cmv" xlink:href="#cmv" gradientUnits="userSpaceOnUse" x1="0" y1="228.1" x2="0" y2="866.0"/>
<linearGradient id="q243" href="#cmv" xlink:href="#cmv" gradientUnits="userSpaceOnUse" x1="0" y1="228.0" x2="0" y2="864.8"/>
<linearGradient id="q244" href="#cmv" xlink:href="#cmv" gradientUnits="userSpaceOnUse" x1="0" y1="227.8" x2="0" y2="863.6"/>
<linearGradient id="q245" href="#cmv" xlink:href="#cmv" gradientUnits="userSpaceOnUse" x1="0" y1="227.7" x2="0" y2="862.4"/>
<linearGradient id="q246" href="#cmv" xlink:href="#cmv" gradientUnits="userSpaceOnUse" x1="0" y1="227.5" x2="0" y2="861.2"/>
<linearGradient id="q247" href="#cmv" xlink:href="#cmv" gradientUnits="userSpaceOnUse" x1="0" y1="227.4" x2="0" y2="860.0"/>
<linearGradient id="q248" href="#cmv" xlink:href="#cmv" gradientUnits="userSpaceOnUse" x1="0" y1="227.2" x2="0" y2="858.8"/>
<linearGradient id="q249" href="#cmv" xlink:href="#cmv" gradientUnits="userSpaceOnUse" x1="0" y1="227.1" x2="0" y2="857.7"/>
<linearGradient id="q250" href="#cmv" xlink:href="#cmv" gradientUnits="userSpaceOnUse" x1="0" y1="227.0" x2="0" y2="856.5"/>
<linearGradient id="q251" href="#cmv" xlink:href="#cmv" gradientUnits="userSpaceOnUse" x1="0" y1="226.8" x2="0" y2="855.4"/>
<linearGradient id="q252" href="#cmv" xlink:href="#cmv" gradientUnits="userSpaceOnUse" x1="0" y1="226.7" x2="0" y2="854.2"/>
<linearGradient id="q253" href="#cmv" xlink:href="#cmv" gradientUnits="userSpaceOnUse" x1="0" y1="226.6" x2="0" y2="853.1"/>
<linearGradient id="q254" href="#cmv" xlink:href="#cmv" gradientUnits="userSpaceOnUse" x1="0" y1="226.5" x2="0" y2="852.0"/>
<linearGradient id="q255" href="#cmv" xlink:href="#cmv" gradientUnits="userSpaceOnUse" x1="0" y1="226.4" x2="0" y2="850.9"/>
<linearGradient id="q256" href="#cmv" xlink:href="#cmv" gradientUnits="userSpaceOnUse" x1="0" y1="226.3" x2="0" y2="849.8"/>
<linearGradient id="q257" href="#cmv" xlink:href="#cmv" gradientUnits="userSpaceOnUse" x1="0" y1="226.2" x2="0" y2="848.7"/>
<linearGradient id="q258" href="#cmv" xlink:href="#cmv" gradientUnits="userSpaceOnUse" x1="0" y1="226.1" x2="0" y2="847.6"/>
<linearGradient id="q259" href="#cmv" xlink:href="#cmv" gradientUnits="userSpaceOnUse" x1="0" y1="226.0" x2="0" y2="846.5"/>
<linearGradient id="q260" href="#cmv" xlink:href="#cmv" gradientUnits="userSpaceOnUse" x1="0" y1="225.9" x2="0" y2="845.4"/>
<linearGradient id="q261" href="#cmv" xlink:href="#cmv" gradientUnits="userSpaceOnUse" x1="0" y1="225.8" x2="0" y2="844.3"/>
<linearGradient id="q262" href="#cmv" xlink:href="#cmv" gradientUnits="userSpaceOnUse" x1="0" y1="225.7" x2="0" y2="843.3"/>
<linearGradient id="q263" href="#cmv" xlink:href="#cmv" gradientUnits="userSpaceOnUse" x1="0" y1="225.6" x2="0" y2="842.2"/>
</defs>
<rect x="118" y="30" width="530" height="372" fill="url(#g1)" clip-path="url(#c1)"/>
<g clip-path="url(#c2)" shape-rendering="crispEdges"><rect x="116.0" y="484" width="2.7" height="364" fill="url(#q0)"/><rect x="118.0" y="484" width="2.7" height="364" fill="url(#q1)"/><rect x="120.0" y="484" width="2.7" height="364" fill="url(#q2)"/><rect x="122.0" y="484" width="2.7" height="364" fill="url(#q3)"/><rect x="124.0" y="484" width="2.7" height="364" fill="url(#q4)"/><rect x="126.0" y="484" width="2.7" height="364" fill="url(#q5)"/><rect x="128.0" y="484" width="2.7" height="364" fill="url(#q6)"/><rect x="130.0" y="484" width="2.7" height="364" fill="url(#q7)"/><rect x="132.0" y="484" width="2.7" height="364" fill="url(#q8)"/><rect x="134.0" y="484" width="2.7" height="364" fill="url(#q9)"/><rect x="136.0" y="484" width="2.7" height="364" fill="url(#q10)"/><rect x="138.0" y="484" width="2.7" height="364" fill="url(#q11)"/><rect x="140.0" y="484" width="2.7" height="364" fill="url(#q12)"/><rect x="142.0" y="484" width="2.7" height="364" fill="url(#q13)"/><rect x="144.0" y="484" width="2.7" height="364" fill="url(#q14)"/><rect x="146.0" y="484" width="2.7" height="364" fill="url(#q15)"/><rect x="148.0" y="484" width="2.7" height="364" fill="url(#q16)"/><rect x="150.0" y="484" width="2.7" height="364" fill="url(#q17)"/><rect x="152.0" y="484" width="2.7" height="364" fill="url(#q18)"/><rect x="154.0" y="484" width="2.7" height="364" fill="url(#q19)"/><rect x="156.0" y="484" width="2.7" height="364" fill="url(#q20)"/><rect x="158.0" y="484" width="2.7" height="364" fill="url(#q21)"/><rect x="160.0" y="484" width="2.7" height="364" fill="url(#q22)"/><rect x="162.0" y="484" width="2.7" height="364" fill="url(#q23)"/><rect x="164.0" y="484" width="2.7" height="364" fill="url(#q24)"/><rect x="166.0" y="484" width="2.7" height="364" fill="url(#q25)"/><rect x="168.0" y="484" width="2.7" height="364" fill="url(#q26)"/><rect x="170.0" y="484" width="2.7" height="364" fill="url(#q27)"/><rect x="172.0" y="484" width="2.7" height="364" fill="url(#q28)"/><rect x="174.0" y="484" width="2.7" height="364" fill="url(#q29)"/><rect x="176.0" y="484" width="2.7" height="364" fill="url(#q30)"/><rect x="178.0" y="484" width="2.7" height="364" fill="url(#q31)"/><rect x="180.0" y="484" width="2.7" height="364" fill="url(#q32)"/><rect x="182.0" y="484" width="2.7" height="364" fill="url(#q33)"/><rect x="184.0" y="484" width="2.7" height="364" fill="url(#q34)"/><rect x="186.0" y="484" width="2.7" height="364" fill="url(#q35)"/><rect x="188.0" y="484" width="2.7" height="364" fill="url(#q36)"/><rect x="190.0" y="484" width="2.7" height="364" fill="url(#q37)"/><rect x="192.0" y="484" width="2.7" height="364" fill="url(#q38)"/><rect x="194.0" y="484" width="2.7" height="364" fill="url(#q39)"/><rect x="196.0" y="484" width="2.7" height="364" fill="url(#q40)"/><rect x="198.0" y="484" width="2.7" height="364" fill="url(#q41)"/><rect x="200.0" y="484" width="2.7" height="364" fill="url(#q42)"/><rect x="202.0" y="484" width="2.7" height="364" fill="url(#q43)"/><rect x="204.0" y="484" width="2.7" height="364" fill="url(#q44)"/><rect x="206.0" y="484" width="2.7" height="364" fill="url(#q45)"/><rect x="208.0" y="484" width="2.7" height="364" fill="url(#q46)"/><rect x="210.0" y="484" width="2.7" height="364" fill="url(#q47)"/><rect x="212.0" y="484" width="2.7" height="364" fill="url(#q48)"/><rect x="214.0" y="484" width="2.7" height="364" fill="url(#q49)"/><rect x="216.0" y="484" width="2.7" height="364" fill="url(#q50)"/><rect x="218.0" y="484" width="2.7" height="364" fill="url(#q51)"/><rect x="220.0" y="484" width="2.7" height="364" fill="url(#q52)"/><rect x="222.0" y="484" width="2.7" height="364" fill="url(#q53)"/><rect x="224.0" y="484" width="2.7" height="364" fill="url(#q54)"/><rect x="226.0" y="484" width="2.7" height="364" fill="url(#q55)"/><rect x="228.0" y="484" width="2.7" height="364" fill="url(#q56)"/><rect x="230.0" y="484" width="2.7" height="364" fill="url(#q57)"/><rect x="232.0" y="484" width="2.7" height="364" fill="url(#q58)"/><rect x="234.0" y="484" width="2.7" height="364" fill="url(#q59)"/><rect x="236.0" y="484" width="2.7" height="364" fill="url(#q60)"/><rect x="238.0" y="484" width="2.7" height="364" fill="url(#q61)"/><rect x="240.0" y="484" width="2.7" height="364" fill="url(#q62)"/><rect x="242.0" y="484" width="2.7" height="364" fill="url(#q63)"/><rect x="244.0" y="484" width="2.7" height="364" fill="url(#q64)"/><rect x="246.0" y="484" width="2.7" height="364" fill="url(#q65)"/><rect x="248.0" y="484" width="2.7" height="364" fill="url(#q66)"/><rect x="250.0" y="484" width="2.7" height="364" fill="url(#q67)"/><rect x="252.0" y="484" width="2.7" height="364" fill="url(#q68)"/><rect x="254.0" y="484" width="2.7" height="364" fill="url(#q69)"/><rect x="256.0" y="484" width="2.7" height="364" fill="url(#q70)"/><rect x="258.0" y="484" width="2.7" height="364" fill="url(#q71)"/><rect x="260.0" y="484" width="2.7" height="364" fill="url(#q72)"/><rect x="262.0" y="484" width="2.7" height="364" fill="url(#q73)"/><rect x="264.0" y="484" width="2.7" height="364" fill="url(#q74)"/><rect x="266.0" y="484" width="2.7" height="364" fill="url(#q75)"/><rect x="268.0" y="484" width="2.7" height="364" fill="url(#q76)"/><rect x="270.0" y="484" width="2.7" height="364" fill="url(#q77)"/><rect x="272.0" y="484" width="2.7" height="364" fill="url(#q78)"/><rect x="274.0" y="484" width="2.7" height="364" fill="url(#q79)"/><rect x="276.0" y="484" width="2.7" height="364" fill="url(#q80)"/><rect x="278.0" y="484" width="2.7" height="364" fill="url(#q81)"/><rect x="280.0" y="484" width="2.7" height="364" fill="url(#q82)"/><rect x="282.0" y="484" width="2.7" height="364" fill="url(#q83)"/><rect x="284.0" y="484" width="2.7" height="364" fill="url(#q84)"/><rect x="286.0" y="484" width="2.7" height="364" fill="url(#q85)"/><rect x="288.0" y="484" width="2.7" height="364" fill="url(#q86)"/><rect x="290.0" y="484" width="2.7" height="364" fill="url(#q87)"/><rect x="292.0" y="484" width="2.7" height="364" fill="url(#q88)"/><rect x="294.0" y="484" width="2.7" height="364" fill="url(#q89)"/><rect x="296.0" y="484" width="2.7" height="364" fill="url(#q90)"/><rect x="298.0" y="484" width="2.7" height="364" fill="url(#q91)"/><rect x="300.0" y="484" width="2.7" height="364" fill="url(#q92)"/><rect x="302.0" y="484" width="2.7" height="364" fill="url(#q93)"/><rect x="304.0" y="484" width="2.7" height="364" fill="url(#q94)"/><rect x="306.0" y="484" width="2.7" height="364" fill="url(#q95)"/><rect x="308.0" y="484" width="2.7" height="364" fill="url(#q96)"/><rect x="310.0" y="484" width="2.7" height="364" fill="url(#q97)"/><rect x="312.0" y="484" width="2.7" height="364" fill="url(#q98)"/><rect x="314.0" y="484" width="2.7" height="364" fill="url(#q99)"/><rect x="316.0" y="484" width="2.7" height="364" fill="url(#q100)"/><rect x="318.0" y="484" width="2.7" height="364" fill="url(#q101)"/><rect x="320.0" y="484" width="2.7" height="364" fill="url(#q102)"/><rect x="322.0" y="484" width="2.7" height="364" fill="url(#q103)"/><rect x="324.0" y="484" width="2.7" height="364" fill="url(#q104)"/><rect x="326.0" y="484" width="2.7" height="364" fill="url(#q105)"/><rect x="328.0" y="484" width="2.7" height="364" fill="url(#q106)"/><rect x="330.0" y="484" width="2.7" height="364" fill="url(#q107)"/><rect x="332.0" y="484" width="2.7" height="364" fill="url(#q108)"/><rect x="334.0" y="484" width="2.7" height="364" fill="url(#q109)"/><rect x="336.0" y="484" width="2.7" height="364" fill="url(#q110)"/><rect x="338.0" y="484" width="2.7" height="364" fill="url(#q111)"/><rect x="340.0" y="484" width="2.7" height="364" fill="url(#q112)"/><rect x="342.0" y="484" width="2.7" height="364" fill="url(#q113)"/><rect x="344.0" y="484" width="2.7" height="364" fill="url(#q114)"/><rect x="346.0" y="484" width="2.7" height="364" fill="url(#q115)"/><rect x="348.0" y="484" width="2.7" height="364" fill="url(#q116)"/><rect x="350.0" y="484" width="2.7" height="364" fill="url(#q117)"/><rect x="352.0" y="484" width="2.7" height="364" fill="url(#q118)"/><rect x="354.0" y="484" width="2.7" height="364" fill="url(#q119)"/><rect x="356.0" y="484" width="2.7" height="364" fill="url(#q120)"/><rect x="358.0" y="484" width="2.7" height="364" fill="url(#q121)"/><rect x="360.0" y="484" width="2.7" height="364" fill="url(#q122)"/><rect x="362.0" y="484" width="2.7" height="364" fill="url(#q123)"/><rect x="364.0" y="484" width="2.7" height="364" fill="url(#q124)"/><rect x="366.0" y="484" width="2.7" height="364" fill="url(#q125)"/><rect x="368.0" y="484" width="2.7" height="364" fill="url(#q126)"/><rect x="370.0" y="484" width="2.7" height="364" fill="url(#q127)"/><rect x="372.0" y="484" width="2.7" height="364" fill="url(#q128)"/><rect x="374.0" y="484" width="2.7" height="364" fill="url(#q129)"/><rect x="376.0" y="484" width="2.7" height="364" fill="url(#q130)"/><rect x="378.0" y="484" width="2.7" height="364" fill="url(#q131)"/><rect x="380.0" y="484" width="2.7" height="364" fill="url(#q132)"/><rect x="382.0" y="484" width="2.7" height="364" fill="url(#q133)"/><rect x="384.0" y="484" width="2.7" height="364" fill="url(#q134)"/><rect x="386.0" y="484" width="2.7" height="364" fill="url(#q135)"/><rect x="388.0" y="484" width="2.7" height="364" fill="url(#q136)"/><rect x="390.0" y="484" width="2.7" height="364" fill="url(#q137)"/><rect x="392.0" y="484" width="2.7" height="364" fill="url(#q138)"/><rect x="394.0" y="484" width="2.7" height="364" fill="url(#q139)"/><rect x="396.0" y="484" width="2.7" height="364" fill="url(#q140)"/><rect x="398.0" y="484" width="2.7" height="364" fill="url(#q141)"/><rect x="400.0" y="484" width="2.7" height="364" fill="url(#q142)"/><rect x="402.0" y="484" width="2.7" height="364" fill="url(#q143)"/><rect x="404.0" y="484" width="2.7" height="364" fill="url(#q144)"/><rect x="406.0" y="484" width="2.7" height="364" fill="url(#q145)"/><rect x="408.0" y="484" width="2.7" height="364" fill="url(#q146)"/><rect x="410.0" y="484" width="2.7" height="364" fill="url(#q147)"/><rect x="412.0" y="484" width="2.7" height="364" fill="url(#q148)"/><rect x="414.0" y="484" width="2.7" height="364" fill="url(#q149)"/><rect x="416.0" y="484" width="2.7" height="364" fill="url(#q150)"/><rect x="418.0" y="484" width="2.7" height="364" fill="url(#q151)"/><rect x="420.0" y="484" width="2.7" height="364" fill="url(#q152)"/><rect x="422.0" y="484" width="2.7" height="364" fill="url(#q153)"/><rect x="424.0" y="484" width="2.7" height="364" fill="url(#q154)"/><rect x="426.0" y="484" width="2.7" height="364" fill="url(#q155)"/><rect x="428.0" y="484" width="2.7" height="364" fill="url(#q156)"/><rect x="430.0" y="484" width="2.7" height="364" fill="url(#q157)"/><rect x="432.0" y="484" width="2.7" height="364" fill="url(#q158)"/><rect x="434.0" y="484" width="2.7" height="364" fill="url(#q159)"/><rect x="436.0" y="484" width="2.7" height="364" fill="url(#q160)"/><rect x="438.0" y="484" width="2.7" height="364" fill="url(#q161)"/><rect x="440.0" y="484" width="2.7" height="364" fill="url(#q162)"/><rect x="442.0" y="484" width="2.7" height="364" fill="url(#q163)"/><rect x="444.0" y="484" width="2.7" height="364" fill="url(#q164)"/><rect x="446.0" y="484" width="2.7" height="364" fill="url(#q165)"/><rect x="448.0" y="484" width="2.7" height="364" fill="url(#q166)"/><rect x="450.0" y="484" width="2.7" height="364" fill="url(#q167)"/><rect x="452.0" y="484" width="2.7" height="364" fill="url(#q168)"/><rect x="454.0" y="484" width="2.7" height="364" fill="url(#q169)"/><rect x="456.0" y="484" width="2.7" height="364" fill="url(#q170)"/><rect x="458.0" y="484" width="2.7" height="364" fill="url(#q171)"/><rect x="460.0" y="484" width="2.7" height="364" fill="url(#q172)"/><rect x="462.0" y="484" width="2.7" height="364" fill="url(#q173)"/><rect x="464.0" y="484" width="2.7" height="364" fill="url(#q174)"/><rect x="466.0" y="484" width="2.7" height="364" fill="url(#q175)"/><rect x="468.0" y="484" width="2.7" height="364" fill="url(#q176)"/><rect x="470.0" y="484" width="2.7" height="364" fill="url(#q177)"/><rect x="472.0" y="484" width="2.7" height="364" fill="url(#q178)"/><rect x="474.0" y="484" width="2.7" height="364" fill="url(#q179)"/><rect x="476.0" y="484" width="2.7" height="364" fill="url(#q180)"/><rect x="478.0" y="484" width="2.7" height="364" fill="url(#q181)"/><rect x="480.0" y="484" width="2.7" height="364" fill="url(#q182)"/><rect x="482.0" y="484" width="2.7" height="364" fill="url(#q183)"/><rect x="484.0" y="484" width="2.7" height="364" fill="url(#q184)"/><rect x="486.0" y="484" width="2.7" height="364" fill="url(#q185)"/><rect x="488.0" y="484" width="2.7" height="364" fill="url(#q186)"/><rect x="490.0" y="484" width="2.7" height="364" fill="url(#q187)"/><rect x="492.0" y="484" width="2.7" height="364" fill="url(#q188)"/><rect x="494.0" y="484" width="2.7" height="364" fill="url(#q189)"/><rect x="496.0" y="484" width="2.7" height="364" fill="url(#q190)"/><rect x="498.0" y="484" width="2.7" height="364" fill="url(#q191)"/><rect x="500.0" y="484" width="2.7" height="364" fill="url(#q192)"/><rect x="502.0" y="484" width="2.7" height="364" fill="url(#q193)"/><rect x="504.0" y="484" width="2.7" height="364" fill="url(#q194)"/><rect x="506.0" y="484" width="2.7" height="364" fill="url(#q195)"/><rect x="508.0" y="484" width="2.7" height="364" fill="url(#q196)"/><rect x="510.0" y="484" width="2.7" height="364" fill="url(#q197)"/><rect x="512.0" y="484" width="2.7" height="364" fill="url(#q198)"/><rect x="514.0" y="484" width="2.7" height="364" fill="url(#q199)"/><rect x="516.0" y="484" width="2.7" height="364" fill="url(#q200)"/><rect x="518.0" y="484" width="2.7" height="364" fill="url(#q201)"/><rect x="520.0" y="484" width="2.7" height="364" fill="url(#q202)"/><rect x="522.0" y="484" width="2.7" height="364" fill="url(#q203)"/><rect x="524.0" y="484" width="2.7" height="364" fill="url(#q204)"/><rect x="526.0" y="484" width="2.7" height="364" fill="url(#q205)"/><rect x="528.0" y="484" width="2.7" height="364" fill="url(#q206)"/><rect x="530.0" y="484" width="2.7" height="364" fill="url(#q207)"/><rect x="532.0" y="484" width="2.7" height="364" fill="url(#q208)"/><rect x="534.0" y="484" width="2.7" height="364" fill="url(#q209)"/><rect x="536.0" y="484" width="2.7" height="364" fill="url(#q210)"/><rect x="538.0" y="484" width="2.7" height="364" fill="url(#q211)"/><rect x="540.0" y="484" width="2.7" height="364" fill="url(#q212)"/><rect x="542.0" y="484" width="2.7" height="364" fill="url(#q213)"/><rect x="544.0" y="484" width="2.7" height="364" fill="url(#q214)"/><rect x="546.0" y="484" width="2.7" height="364" fill="url(#q215)"/><rect x="548.0" y="484" width="2.7" height="364" fill="url(#q216)"/><rect x="550.0" y="484" width="2.7" height="364" fill="url(#q217)"/><rect x="552.0" y="484" width="2.7" height="364" fill="url(#q218)"/><rect x="554.0" y="484" width="2.7" height="364" fill="url(#q219)"/><rect x="556.0" y="484" width="2.7" height="364" fill="url(#q220)"/><rect x="558.0" y="484" width="2.7" height="364" fill="url(#q221)"/><rect x="560.0" y="484" width="2.7" height="364" fill="url(#q222)"/><rect x="562.0" y="484" width="2.7" height="364" fill="url(#q223)"/><rect x="564.0" y="484" width="2.7" height="364" fill="url(#q224)"/><rect x="566.0" y="484" width="2.7" height="364" fill="url(#q225)"/><rect x="568.0" y="484" width="2.7" height="364" fill="url(#q226)"/><rect x="570.0" y="484" width="2.7" height="364" fill="url(#q227)"/><rect x="572.0" y="484" width="2.7" height="364" fill="url(#q228)"/><rect x="574.0" y="484" width="2.7" height="364" fill="url(#q229)"/><rect x="576.0" y="484" width="2.7" height="364" fill="url(#q230)"/><rect x="578.0" y="484" width="2.7" height="364" fill="url(#q231)"/><rect x="580.0" y="484" width="2.7" height="364" fill="url(#q232)"/><rect x="582.0" y="484" width="2.7" height="364" fill="url(#q233)"/><rect x="584.0" y="484" width="2.7" height="364" fill="url(#q234)"/><rect x="586.0" y="484" width="2.7" height="364" fill="url(#q235)"/><rect x="588.0" y="484" width="2.7" height="364" fill="url(#q236)"/><rect x="590.0" y="484" width="2.7" height="364" fill="url(#q237)"/><rect x="592.0" y="484" width="2.7" height="364" fill="url(#q238)"/><rect x="594.0" y="484" width="2.7" height="364" fill="url(#q239)"/><rect x="596.0" y="484" width="2.7" height="364" fill="url(#q240)"/><rect x="598.0" y="484" width="2.7" height="364" fill="url(#q241)"/><rect x="600.0" y="484" width="2.7" height="364" fill="url(#q242)"/><rect x="602.0" y="484" width="2.7" height="364" fill="url(#q243)"/><rect x="604.0" y="484" width="2.7" height="364" fill="url(#q244)"/><rect x="606.0" y="484" width="2.7" height="364" fill="url(#q245)"/><rect x="608.0" y="484" width="2.7" height="364" fill="url(#q246)"/><rect x="610.0" y="484" width="2.7" height="364" fill="url(#q247)"/><rect x="612.0" y="484" width="2.7" height="364" fill="url(#q248)"/><rect x="614.0" y="484" width="2.7" height="364" fill="url(#q249)"/><rect x="616.0" y="484" width="2.7" height="364" fill="url(#q250)"/><rect x="618.0" y="484" width="2.7" height="364" fill="url(#q251)"/><rect x="620.0" y="484" width="2.7" height="364" fill="url(#q252)"/><rect x="622.0" y="484" width="2.7" height="364" fill="url(#q253)"/><rect x="624.0" y="484" width="2.7" height="364" fill="url(#q254)"/><rect x="626.0" y="484" width="2.7" height="364" fill="url(#q255)"/><rect x="628.0" y="484" width="2.7" height="364" fill="url(#q256)"/><rect x="630.0" y="484" width="2.7" height="364" fill="url(#q257)"/><rect x="632.0" y="484" width="2.7" height="364" fill="url(#q258)"/><rect x="634.0" y="484" width="2.7" height="364" fill="url(#q259)"/><rect x="636.0" y="484" width="2.7" height="364" fill="url(#q260)"/><rect x="638.0" y="484" width="2.7" height="364" fill="url(#q261)"/><rect x="640.0" y="484" width="2.7" height="364" fill="url(#q262)"/><rect x="642.0" y="484" width="2.7" height="364" fill="url(#q263)"/></g>
</svg>
<div class="g" style="clip-path:polygon(120.2px 385.74px,645.3px 218.70px,645.3px 360px,120.2px 398.8px);background:linear-gradient(to right,rgb(231,213,181) 120.0px,rgb(231,209,177) 152.0px,rgb(228,191,159) 216.0px,rgb(224,170,142) 280.0px,rgb(216,145,123) 343.0px,rgb(205,119,105) 407.0px,rgb(191,90,87) 471.0px,rgb(173,59,69) 535.0px,rgb(155,38,55) 599.0px,rgb(138,22,42) 645.0px)"></div>
<div class="g" style="clip-path:polygon(120.2px 384.24px,645.3px 217.20px,645.3px 360px,120.2px 398.8px);background:conic-gradient(from 0deg at 61.86px 403.11px,rgba(232,220,190,1) 0deg,rgba(232,220,190,1) 72.344deg,rgba(232,220,190,0) 85.772deg,rgba(232,220,190,0) 360deg)"></div>
<svg width="830" height="1396" viewBox="0 0 830 1396">
<clipPath id="c1b"><path d="M120.2 370.3 L150 342.6 L234.3 260 L330 165 L366 129.5 Q372.5 123 378.2 119.2 L645 34.3 L645 360 L120.2 398.8 Z"/></clipPath>
<g clip-path="url(#c1b)" fill="none" stroke="rgb(80,60,210)"><path d="M120.2 370.3 L150 342.6 L234.3 260 L330 165 L366 129.5" stroke-width="7" stroke-opacity="0.07"/><path d="M120.2 370.3 L150 342.6 L234.3 260 L330 165 L366 129.5" stroke-width="4.4" stroke-opacity="0.11"/></g>
<path d="M120.2 370.3 L150 342.6 L234.3 260 L330 165 L366 129.5 Q372.5 123 378.2 119.2 L645 34.3 M645 360 L120.2 398.8" fill="none" stroke="#000" stroke-width="1.75" stroke-linejoin="round"/>
<path d="M138.30 12.10v7.60M138.30 431.70v-7.60M156.40 12.10v4.60M156.40 431.70v-4.60M174.49 12.10v4.60M174.49 431.70v-4.60M192.59 12.10v4.60M192.59 431.70v-4.60M210.69 12.10v7.60M210.69 431.70v-7.60M228.79 12.10v4.60M228.79 431.70v-4.60M246.89 12.10v4.60M246.89 431.70v-4.60M264.98 12.10v4.60M264.98 431.70v-4.60M283.08 12.10v7.60M283.08 431.70v-7.60M301.18 12.10v4.60M301.18 431.70v-4.60M319.28 12.10v4.60M319.28 431.70v-4.60M337.38 12.10v4.60M337.38 431.70v-4.60M355.47 12.10v7.60M355.47 431.70v-7.60M373.57 12.10v4.60M373.57 431.70v-4.60M391.67 12.10v4.60M391.67 431.70v-4.60M409.77 12.10v4.60M409.77 431.70v-4.60M427.87 12.10v7.60M427.87 431.70v-7.60M445.96 12.10v4.60M445.96 431.70v-4.60M464.06 12.10v4.60M464.06 431.70v-4.60M482.16 12.10v4.60M482.16 431.70v-4.60M500.26 12.10v7.60M500.26 431.70v-7.60M518.36 12.10v4.60M518.36 431.70v-4.60M536.45 12.10v4.60M536.45 431.70v-4.60M554.55 12.10v4.60M554.55 431.70v-4.60M572.65 12.10v7.60M572.65 431.70v-7.60M590.75 12.10v4.60M590.75 431.70v-4.60M608.85 12.10v4.60M608.85 431.70v-4.60M626.94 12.10v4.60M626.94 431.70v-4.60M120.30 424.66h4.60M645.00 424.66h-4.60M120.30 410.20h7.60M645.00 410.20h-7.60M120.30 395.74h4.60M645.00 395.74h-4.60M120.30 381.29h4.60M645.00 381.29h-4.60M120.30 366.83h4.60M645.00 366.83h-4.60M120.30 352.38h4.60M645.00 352.38h-4.60M120.30 337.92h7.60M645.00 337.92h-7.60M120.30 323.46h4.60M645.00 323.46h-4.60M120.30 309.01h4.60M645.00 309.01h-4.60M120.30 294.55h4.60M645.00 294.55h-4.60M120.30 280.10h4.60M645.00 280.10h-4.60M120.30 265.64h7.60M645.00 265.64h-7.60M120.30 251.18h4.60M645.00 251.18h-4.60M120.30 236.73h4.60M645.00 236.73h-4.60M120.30 222.27h4.60M645.00 222.27h-4.60M120.30 207.82h4.60M645.00 207.82h-4.60M120.30 193.36h7.60M645.00 193.36h-7.60M120.30 178.90h4.60M645.00 178.90h-4.60M120.30 164.45h4.60M645.00 164.45h-4.60M120.30 149.99h4.60M645.00 149.99h-4.60M120.30 135.54h4.60M645.00 135.54h-4.60M120.30 121.08h7.60M645.00 121.08h-7.60M120.30 106.62h4.60M645.00 106.62h-4.60M120.30 92.17h4.60M645.00 92.17h-4.60M120.30 77.71h4.60M645.00 77.71h-4.60M120.30 63.26h4.60M645.00 63.26h-4.60M120.30 48.80h7.60M645.00 48.80h-7.60M120.30 34.34h4.60M645.00 34.34h-4.60M120.30 19.89h4.60M645.00 19.89h-4.60" stroke="#000" stroke-width="1.50" fill="none"/>
<rect x="120.30" y="12.10" width="524.70" height="419.60" fill="none" stroke="#000" stroke-width="1.90"/>
<text x="115.8" y="416.8" text-anchor="end">3.0</text><text x="114.3" y="344.5" text-anchor="end">3.5</text><text x="115.8" y="272.2" text-anchor="end">4.0</text><text x="114.3" y="200.0" text-anchor="end">4.5</text><text x="115.8" y="127.7" text-anchor="end">5.0</text><text x="114.3" y="55.4" text-anchor="end">5.5</text>
<clipPath id="c2b"><path d="M117.8 509.5 L642.6 486.1 L642.6 844.5 L375.8 785.2 Q370 782 364.9 776.7 L117.8 540.8 Z"/></clipPath>
<linearGradient id="fr2" gradientUnits="userSpaceOnUse" x1="117.8" y1="540.8" x2="345" y2="757.7"><stop offset="0" stop-color="rgb(80,60,210)"/><stop offset="0.7" stop-color="rgb(80,60,210)"/><stop offset="1" stop-color="rgb(80,60,210)" stop-opacity="0"/></linearGradient>
<g clip-path="url(#c2b)" fill="none" stroke="url(#fr2)"><path d="M117.8 540.8 L345 757.7" stroke-width="7" stroke-opacity="0.10"/><path d="M117.8 540.8 L345 757.7" stroke-width="4.4" stroke-opacity="0.14"/></g>
<path d="M117.8 509.5 L642.6 486.1 M642.6 844.5 L375.8 785.2 Q370 782 364.9 776.7 L117.8 540.8" fill="none" stroke="#000" stroke-width="1.75" stroke-linejoin="round"/>
<path d="M135.89 450.40v7.60M135.89 869.70v-7.60M153.99 450.40v4.60M153.99 869.70v-4.60M172.08 450.40v4.60M172.08 869.70v-4.60M190.18 450.40v4.60M190.18 869.70v-4.60M208.27 450.40v7.60M208.27 869.70v-7.60M226.37 450.40v4.60M226.37 869.70v-4.60M244.46 450.40v4.60M244.46 869.70v-4.60M262.56 450.40v4.60M262.56 869.70v-4.60M280.66 450.40v7.60M280.66 869.70v-7.60M298.75 450.40v4.60M298.75 869.70v-4.60M316.84 450.40v4.60M316.84 869.70v-4.60M334.94 450.40v4.60M334.94 869.70v-4.60M353.03 450.40v7.60M353.03 869.70v-7.60M371.13 450.40v4.60M371.13 869.70v-4.60M389.22 450.40v4.60M389.22 869.70v-4.60M407.32 450.40v4.60M407.32 869.70v-4.60M425.41 450.40v7.60M425.41 869.70v-7.60M443.51 450.40v4.60M443.51 869.70v-4.60M461.61 450.40v4.60M461.61 869.70v-4.60M479.70 450.40v4.60M479.70 869.70v-4.60M497.79 450.40v7.60M497.79 869.70v-7.60M515.89 450.40v4.60M515.89 869.70v-4.60M533.98 450.40v4.60M533.98 869.70v-4.60M552.08 450.40v4.60M552.08 869.70v-4.60M570.17 450.40v7.60M570.17 869.70v-7.60M588.27 450.40v4.60M588.27 869.70v-4.60M606.36 450.40v4.60M606.36 869.70v-4.60M624.46 450.40v4.60M624.46 869.70v-4.60M118.00 846.40h7.60M642.50 846.40h-7.60M118.00 822.38h4.60M642.50 822.38h-4.60M118.00 798.36h4.60M642.50 798.36h-4.60M118.00 774.34h4.60M642.50 774.34h-4.60M118.00 750.32h4.60M642.50 750.32h-4.60M118.00 726.30h7.60M642.50 726.30h-7.60M118.00 702.28h4.60M642.50 702.28h-4.60M118.00 678.26h4.60M642.50 678.26h-4.60M118.00 654.24h4.60M642.50 654.24h-4.60M118.00 630.22h4.60M642.50 630.22h-4.60M118.00 606.20h7.60M642.50 606.20h-7.60M118.00 582.18h4.60M642.50 582.18h-4.60M118.00 558.16h4.60M642.50 558.16h-4.60M118.00 534.14h4.60M642.50 534.14h-4.60M118.00 510.12h4.60M642.50 510.12h-4.60M118.00 486.10h7.60M642.50 486.10h-7.60M118.00 462.08h4.60M642.50 462.08h-4.60" stroke="#000" stroke-width="1.50" fill="none"/>
<rect x="118.00" y="450.40" width="524.50" height="419.30" fill="none" stroke="#000" stroke-width="1.90"/>
<text x="114.8" y="853.0" text-anchor="end">0.0</text><text x="113.3" y="732.9" text-anchor="end">0.5</text><text x="114.8" y="612.8" text-anchor="end">1.0</text><text x="113.3" y="492.7" text-anchor="end">1.5</text>
<clipPath id="c3"><rect x="119.1" y="883.5" width="524.9" height="418.9"/></clipPath>
<g clip-path="url(#c3)" fill="none" stroke-width="2">
<path d="M114.55 1054.8H644.0" stroke="#000" stroke-width="1.9" stroke-dasharray="8.45 5.67"/>
<path d="M118 1289.9 L292 1154.0 Q294.2 1152.3 297 1150.8 L484.1 1055.0 L644.2 975.2" stroke="rgb(168,8,18)"/>
<path d="M124.8 1308.2 L125.5 1304.2 L126.3 1300.3 L127.0 1296.7 L127.7 1293.3 L128.4 1290.0 L129.2 1286.8 L129.9 1283.8 L130.6 1280.9 L131.3 1278.1 L132.1 1275.5 L132.8 1272.9 L133.5 1270.3 L134.2 1267.9 L135.0 1265.5 L135.7 1263.2 L136.4 1261.0 L137.1 1258.8 L137.8 1256.7 L138.6 1254.7 L139.3 1252.6 L140.0 1250.7 L140.7 1248.7 L141.5 1246.8 L142.2 1245.0 L142.9 1243.2 L143.6 1241.4 L144.4 1239.7 L145.1 1238.0 L148.7 1229.8 L152.3 1222.3 L156.0 1215.3 L159.6 1208.7 L163.2 1202.4 L166.8 1196.5 L170.4 1190.8 L174.1 1185.3 L177.7 1180.1 L181.3 1175.0 L184.9 1170.1 L188.5 1165.3 L192.2 1160.7 L195.8 1156.1 L199.4 1151.7 L203.0 1147.4 L206.6 1143.2 L210.3 1139.0 L213.9 1135.0 L217.5 1131.0 L221.1 1127.0 L224.8 1123.2 L228.4 1119.4 L232.0 1115.6 L235.6 1111.9 L239.2 1108.3 L242.9 1104.7 L246.5 1101.1 L250.1 1097.6 L253.7 1094.2 L257.3 1090.7 L261.0 1087.3 L264.6 1083.9 L268.2 1080.6 L271.8 1077.3 L275.4 1074.0 L279.1 1070.8 L282.7 1067.5 L286.3 1064.3 L289.9 1061.2 L293.6 1058.0 L297.2 1054.9 L300.8 1051.8 L304.4 1048.7 L308.0 1045.6 L311.7 1042.6 L315.3 1039.6 L318.9 1036.5 L322.5 1033.6 L326.1 1030.6 L329.8 1027.6 L333.4 1024.7 L337.0 1021.7 L340.6 1018.8 L344.2 1015.9 L347.9 1013.0 L351.5 1010.2 L355.1 1007.3 L358.7 1004.4 L362.4 1001.6 L366.0 998.8 L369.6 996.0 L373.2 993.2 L375.5 991.2 Q377.0 990.2 379.5 989.0 L644.2 881.6" stroke="rgb(14,14,176)" stroke-linejoin="round"/>
</g>
<path d="M137.30 883.50v7.60M137.30 1302.40v-7.60M155.41 883.50v4.60M155.41 1302.40v-4.60M173.51 883.50v4.60M173.51 1302.40v-4.60M191.62 883.50v4.60M191.62 1302.40v-4.60M209.73 883.50v7.60M209.73 1302.40v-7.60M227.83 883.50v4.60M227.83 1302.40v-4.60M245.93 883.50v4.60M245.93 1302.40v-4.60M264.04 883.50v4.60M264.04 1302.40v-4.60M282.15 883.50v7.60M282.15 1302.40v-7.60M300.25 883.50v4.60M300.25 1302.40v-4.60M318.35 883.50v4.60M318.35 1302.40v-4.60M336.46 883.50v4.60M336.46 1302.40v-4.60M354.56 883.50v7.60M354.56 1302.40v-7.60M372.67 883.50v4.60M372.67 1302.40v-4.60M390.78 883.50v4.60M390.78 1302.40v-4.60M408.88 883.50v4.60M408.88 1302.40v-4.60M426.98 883.50v7.60M426.98 1302.40v-7.60M445.09 883.50v4.60M445.09 1302.40v-4.60M463.20 883.50v4.60M463.20 1302.40v-4.60M481.30 883.50v4.60M481.30 1302.40v-4.60M499.40 883.50v7.60M499.40 1302.40v-7.60M517.51 883.50v4.60M517.51 1302.40v-4.60M535.61 883.50v4.60M535.61 1302.40v-4.60M553.72 883.50v4.60M553.72 1302.40v-4.60M571.83 883.50v7.60M571.83 1302.40v-7.60M589.93 883.50v4.60M589.93 1302.40v-4.60M608.03 883.50v4.60M608.03 1302.40v-4.60M626.14 883.50v4.60M626.14 1302.40v-4.60M119.10 1297.24h4.60M644.00 1297.24h-4.60M119.10 1285.70h7.60M644.00 1285.70h-7.60M119.10 1274.15h4.60M644.00 1274.15h-4.60M119.10 1262.61h4.60M644.00 1262.61h-4.60M119.10 1251.07h4.60M644.00 1251.07h-4.60M119.10 1239.52h4.60M644.00 1239.52h-4.60M119.10 1227.97h7.60M644.00 1227.97h-7.60M119.10 1216.43h4.60M644.00 1216.43h-4.60M119.10 1204.88h4.60M644.00 1204.88h-4.60M119.10 1193.34h4.60M644.00 1193.34h-4.60M119.10 1181.80h4.60M644.00 1181.80h-4.60M119.10 1170.25h7.60M644.00 1170.25h-7.60M119.10 1158.70h4.60M644.00 1158.70h-4.60M119.10 1147.16h4.60M644.00 1147.16h-4.60M119.10 1135.62h4.60M644.00 1135.62h-4.60M119.10 1124.07h4.60M644.00 1124.07h-4.60M119.10 1112.52h7.60M644.00 1112.52h-7.60M119.10 1100.98h4.60M644.00 1100.98h-4.60M119.10 1089.43h4.60M644.00 1089.43h-4.60M119.10 1077.89h4.60M644.00 1077.89h-4.60M119.10 1066.35h4.60M644.00 1066.35h-4.60M119.10 1054.80h7.60M644.00 1054.80h-7.60M119.10 1043.25h4.60M644.00 1043.25h-4.60M119.10 1031.71h4.60M644.00 1031.71h-4.60M119.10 1020.16h4.60M644.00 1020.16h-4.60M119.10 1008.62h4.60M644.00 1008.62h-4.60M119.10 997.07h7.60M644.00 997.07h-7.60M119.10 985.53h4.60M644.00 985.53h-4.60M119.10 973.98h4.60M644.00 973.98h-4.60M119.10 962.44h4.60M644.00 962.44h-4.60M119.10 950.89h4.60M644.00 950.89h-4.60M119.10 939.35h7.60M644.00 939.35h-7.60M119.10 927.80h4.60M644.00 927.80h-4.60M119.10 916.26h4.60M644.00 916.26h-4.60M119.10 904.71h4.60M644.00 904.71h-4.60M119.10 893.17h4.60M644.00 893.17h-4.60" stroke="#000" stroke-width="1.50" fill="none"/>
<rect x="119.10" y="883.50" width="524.90" height="418.90" fill="none" stroke="#000" stroke-width="1.90"/>
<text x="114.5" y="1292.3" text-anchor="end">−2.0</text><text x="113.0" y="1234.6" text-anchor="end">−1.5</text><text x="114.5" y="1176.8" text-anchor="end">−1.0</text><text x="113.0" y="1119.1" text-anchor="end">−0.5</text><text x="114.5" y="1061.4" text-anchor="end">0.0</text><text x="113.0" y="1003.7" text-anchor="end">0.5</text><text x="114.5" y="945.9" text-anchor="end">1.0</text>
<text x="137.3" y="1327" text-anchor="middle">6.6</text>
<text x="209.7" y="1327" text-anchor="middle">6.8</text>
<text x="282.1" y="1327" text-anchor="middle">7.0</text>
<text x="354.6" y="1327" text-anchor="middle">7.2</text>
<text x="427.0" y="1327" text-anchor="middle">7.4</text>
<text x="499.4" y="1327" text-anchor="middle">7.6</text>
<text x="571.8" y="1327" text-anchor="middle">7.8</text>
<text x="644.2" y="1327" text-anchor="middle">8.0</text>
<defs><g id="tau" fill="none" stroke-linecap="round" stroke-linejoin="round"><path d="M0.5,-8.9 C1.6,-10.8 3.0,-11.5 5.0,-11.5 L9.4,-11.9 C10.8,-12.0 11.8,-12.3 12.5,-12.8" stroke-width="1.55"/><path d="M7.3,-11.4 C6.6,-8.4 5.6,-5.4 5.0,-3.2 C4.6,-1.4 5.3,-0.7 6.3,-0.8 C7.0,-0.9 7.4,-1.4 7.5,-2.0" stroke-width="1.7"/><circle cx="6.0" cy="-1.9" r="0.9" stroke-width="1.0"/></g><g id="scE" fill="none" stroke-linecap="round" stroke-linejoin="round"><path d="M13.6,-14.6 C12.8,-16.6 10.6,-17.7 7.9,-17.7 C5.0,-17.7 3.1,-16.2 3.1,-14.0 C3.1,-12.0 4.8,-10.6 7.4,-10.4 M10.0,-10.8 L7.4,-10.4 C3.5,-9.8 0.4,-7.6 0.4,-4.8 C0.4,-1.8 2.6,-0.3 6.0,-0.3 C10.0,-0.3 13.5,-2.6 14.9,-6.0" stroke-width="1.0"/><path d="M5.6,-17.2 C3.9,-16.6 3.3,-15.3 3.3,-14.0 C3.3,-12.8 3.9,-11.8 5.0,-11.2 M3.8,-9.3 C1.6,-8.2 0.7,-6.5 0.7,-4.8 C0.7,-3.0 1.4,-1.7 2.8,-0.9" stroke-width="2.0"/><circle cx="13.0" cy="-14.8" r="0.9" stroke-width="1.3"/></g></defs>
<g transform="translate(217.30 263.60) rotate(-44.30) translate(0.00 0)"><use href="#tau" xlink:href="#tau" transform="translate(0.00 0) scale(1.0000)" stroke="#000"/><text x="16.00" y="3.90" style="font-size:20.0px;fill:#000">J</text><text x="33.18" y="2.80" style="font-size:28.0px;fill:#000">=</text><use href="#tau" xlink:href="#tau" transform="translate(56.97 0) scale(1.0000)" stroke="#000"/><text x="70.37" y="3.90" style="font-size:20.0px;fill:#000">evol</text></g>
<g transform="translate(437.00 88.30) rotate(-17.60) translate(0.00 0)"><use href="#tau" xlink:href="#tau" transform="translate(0.00 0) scale(1.0000)" stroke="#000"/><text x="16.00" y="3.90" style="font-size:20.0px;fill:#000">J</text><text x="33.18" y="2.80" style="font-size:28.0px;fill:#000">=</text><use href="#tau" xlink:href="#tau" transform="translate(56.97 0) scale(1.0000)" stroke="#000"/><text x="70.37" y="3.90" style="font-size:20.0px;fill:#000">flare</text></g>
<g transform="translate(372.40 404.20) rotate(-1.80) translate(0.00 0)"><use href="#tau" xlink:href="#tau" transform="translate(0.00 0) scale(1.0000)" stroke="#000"/><text x="13.40" y="3.90" style="font-size:20.0px;fill:#000">coll</text><text x="51.99" y="2.80" style="font-size:28.0px;fill:#000">=</text><use href="#tau" xlink:href="#tau" transform="translate(76.98 0) scale(1.0000)" stroke="#000"/><text x="90.38" y="3.90" style="font-size:20.0px;fill:#000">evol</text></g>
<text class="lab" x="435.1" y="270.1" text-anchor="middle" style="fill:#4d4d4d">trapped stars</text>
<g transform="translate(291.70 489.30) rotate(-3.00) translate(0.00 0)"><use href="#tau" xlink:href="#tau" transform="translate(0.00 0) scale(1.0000)" stroke="#000"/><text x="13.40" y="3.90" style="font-size:20.0px;fill:#000">coll</text><text x="51.99" y="2.80" style="font-size:28.0px;fill:#000">=</text><use href="#tau" xlink:href="#tau" transform="translate(76.98 0) scale(1.0000)" stroke="#000"/><text x="90.38" y="3.90" style="font-size:20.0px;fill:#000">evol</text></g>
<g transform="translate(172.50 625.70) rotate(45.80) translate(0.00 0)"><use href="#tau" xlink:href="#tau" transform="translate(0.00 0) scale(1.0000)" stroke="#000"/><text x="16.00" y="3.90" style="font-size:20.0px;fill:#000">J</text><text x="33.18" y="2.80" style="font-size:28.0px;fill:#000">=</text><use href="#tau" xlink:href="#tau" transform="translate(56.97 0) scale(1.0000)" stroke="#000"/><text x="70.37" y="3.90" style="font-size:20.0px;fill:#000">evol</text></g>
<g transform="translate(432.00 821.50) rotate(12.00) translate(0.00 0)"><use href="#tau" xlink:href="#tau" transform="translate(0.00 0) scale(1.0000)" stroke="#000"/><text x="12.90" y="3.90" style="font-size:20.0px;fill:#000;font-style:italic">J</text><text x="31.18" y="2.80" style="font-size:28.0px;fill:#000">=</text><use href="#tau" xlink:href="#tau" transform="translate(56.57 0) scale(1.0000)" stroke="#000"/><text x="69.97" y="3.90" style="font-size:20.0px;fill:#000">flare</text></g>
<text class="lab" x="432.4" y="624.1" text-anchor="middle" style="fill:#4d4d4d">trapped stars</text>
<text class="lab" x="470.7" y="918.2" style="fill:rgb(14,14,176)">cusp</text>
<text class="lab" x="410.2" y="1112.6" style="fill:rgb(168,8,18)">core</text>
<g transform="translate(61.90 223.50) rotate(-90.00) translate(-58.59 0)"><text x="0.00" y="0.00" style="font-size:24.6px;fill:#000">log </text><use href="#tau" xlink:href="#tau" transform="translate(38.38 0) scale(0.8786)" stroke="#000"/><text x="50.16" y="3.50" style="font-size:17.4px;fill:#000">orb</text><text x="74.15" y="0.00" style="font-size:24.6px;fill:#000"> [yr]</text></g>
<g transform="translate(59.80 660.70) rotate(-90.00) translate(-51.11 0)"><text x="0.00" y="0.00" style="font-size:24.6px;fill:#000">log </text><use href="#scE" xlink:href="#scE" transform="translate(38.35 0.00) scale(0.9533)" stroke="#000"/><text x="53.79" y="0.00" style="font-size:24.6px;fill:#000"> [</text><use href="#scE" xlink:href="#scE" transform="translate(68.89 0.00) scale(0.9533)" stroke="#000"/><text x="84.34" y="4.00" style="font-size:17.4px;fill:#000;font-style:italic">h</text><text x="94.04" y="0.00" style="font-size:24.6px;fill:#000">]</text></g>
<g transform="translate(45.1 1093.6) rotate(-90) translate(-48.55 0)"><text x="0" y="0">log </text><path d="M44.36 -15.78 l-5.28 8.64 l5.28 8.64" fill="none" stroke="#000" stroke-width="1.1"/><text x="46.08" y="0" class="it">N</text><text x="61.99" y="4" class="sub">MT</text><path d="M90.09 -15.78 l5.28 8.64 l-5.28 8.64" fill="none" stroke="#000" stroke-width="1.1"/></g>
<g transform="translate(315.32 1364.6)"><text x="0" y="0">log </text><text x="38.18" y="0" class="it">M</text><text x="58.38" y="4" class="sub">bh</text><text x="80.78" y="0">[</text><text x="88.97" y="0" class="it">M</text><circle cx="116.26" cy="-0.6" r="5.4" fill="none" stroke="#000" stroke-width="1.0"/><circle cx="116.26" cy="-0.6" r="1.3" fill="#000"/><text x="123.96" y="0">]</text></g>
<rect x="709.2" y="74.0" width="23.7" height="315.6" fill="url(#cb)"/><rect x="709.2" y="74.0" width="23.7" height="315.6" fill="none" stroke="#777" stroke-opacity="0.3" stroke-width="0.7"/><path d="M733.7 383.44h4.4" stroke="#d8d8d8" stroke-width="1"/><path d="M733.7 369.45h4.4" stroke="#d8d8d8" stroke-width="1"/><path d="M733.7 355.45h4.4" stroke="#d8d8d8" stroke-width="1"/><path d="M733.7 341.46h4.4" stroke="#d8d8d8" stroke-width="1"/><path d="M733.2 327.46h7.2" stroke="#858585" stroke-width="1"/><path d="M733.7 313.46h4.4" stroke="#d8d8d8" stroke-width="1"/><path d="M733.7 299.47h4.4" stroke="#d8d8d8" stroke-width="1"/><path d="M733.7 285.47h4.4" stroke="#d8d8d8" stroke-width="1"/><path d="M733.7 271.48h4.4" stroke="#d8d8d8" stroke-width="1"/><path d="M733.2 257.48h7.2" stroke="#858585" stroke-width="1"/><path d="M733.7 243.49h4.4" stroke="#d8d8d8" stroke-width="1"/><path d="M733.7 229.49h4.4" stroke="#d8d8d8" stroke-width="1"/><path d="M733.7 215.50h4.4" stroke="#d8d8d8" stroke-width="1"/><path d="M733.7 201.50h4.4" stroke="#d8d8d8" stroke-width="1"/><path d="M733.2 187.50h7.2" stroke="#858585" stroke-width="1"/><path d="M733.7 173.51h4.4" stroke="#d8d8d8" stroke-width="1"/><path d="M733.7 159.51h4.4" stroke="#d8d8d8" stroke-width="1"/><path d="M733.7 145.52h4.4" stroke="#d8d8d8" stroke-width="1"/><path d="M733.7 131.52h4.4" stroke="#d8d8d8" stroke-width="1"/><path d="M733.2 117.53h7.2" stroke="#858585" stroke-width="1"/><path d="M733.7 103.53h4.4" stroke="#d8d8d8" stroke-width="1"/><path d="M733.7 89.54h4.4" stroke="#d8d8d8" stroke-width="1"/><path d="M733.7 75.54h4.4" stroke="#d8d8d8" stroke-width="1"/><text x="745.2" y="125.1">0.5</text><text x="745.2" y="195.1">0</text><text x="745.2" y="265.1">−0.5</text><text x="745.2" y="335.1">−1.0</text><text x="684.5" y="38.8">log</text><text x="725.0" y="26.1" style="font-size:17px;font-style:italic;letter-spacing:1.3px">dN</text><path d="M725 31H748.8" stroke="#000" stroke-width="1.7"/><text x="726.9" y="50.7" style="font-size:17px;font-style:italic;letter-spacing:1.3px">dp</text><text x="759.1" y="38.8">[yr<tspan class="sub" dy="-9.5">−1</tspan><tspan dy="9.5">]</tspan></text>
<rect x="717.3" y="509.4" width="23.5" height="314.8" fill="url(#cb)"/><rect x="717.3" y="509.4" width="23.5" height="314.8" fill="none" stroke="#777" stroke-opacity="0.3" stroke-width="0.7"/><path d="M741.6 816.33h4.4" stroke="#d8d8d8" stroke-width="1"/><path d="M741.6 804.21h4.4" stroke="#d8d8d8" stroke-width="1"/><path d="M741.1 792.10h7.2" stroke="#858585" stroke-width="1"/><path d="M741.6 779.99h4.4" stroke="#d8d8d8" stroke-width="1"/><path d="M741.6 767.88h4.4" stroke="#d8d8d8" stroke-width="1"/><path d="M741.6 755.77h4.4" stroke="#d8d8d8" stroke-width="1"/><path d="M741.6 743.65h4.4" stroke="#d8d8d8" stroke-width="1"/><path d="M741.1 731.54h7.2" stroke="#858585" stroke-width="1"/><path d="M741.6 719.43h4.4" stroke="#d8d8d8" stroke-width="1"/><path d="M741.6 707.32h4.4" stroke="#d8d8d8" stroke-width="1"/><path d="M741.6 695.20h4.4" stroke="#d8d8d8" stroke-width="1"/><path d="M741.6 683.09h4.4" stroke="#d8d8d8" stroke-width="1"/><path d="M741.1 670.98h7.2" stroke="#858585" stroke-width="1"/><path d="M741.6 658.87h4.4" stroke="#d8d8d8" stroke-width="1"/><path d="M741.6 646.75h4.4" stroke="#d8d8d8" stroke-width="1"/><path d="M741.6 634.64h4.4" stroke="#d8d8d8" stroke-width="1"/><path d="M741.6 622.53h4.4" stroke="#d8d8d8" stroke-width="1"/><path d="M741.1 610.42h7.2" stroke="#858585" stroke-width="1"/><path d="M741.6 598.30h4.4" stroke="#d8d8d8" stroke-width="1"/><path d="M741.6 586.19h4.4" stroke="#d8d8d8" stroke-width="1"/><path d="M741.6 574.08h4.4" stroke="#d8d8d8" stroke-width="1"/><path d="M741.6 561.97h4.4" stroke="#d8d8d8" stroke-width="1"/><path d="M741.1 549.86h7.2" stroke="#858585" stroke-width="1"/><path d="M741.6 537.74h4.4" stroke="#d8d8d8" stroke-width="1"/><path d="M741.6 525.63h4.4" stroke="#d8d8d8" stroke-width="1"/><path d="M741.6 513.52h4.4" stroke="#d8d8d8" stroke-width="1"/><text x="753.1" y="557.5">4.0</text><text x="753.1" y="618.0">3.5</text><text x="753.1" y="678.6">3.0</text><text x="753.1" y="739.1">2.5</text><text x="753.1" y="799.7">2.0</text><text x="681.9" y="478.4">log</text><text x="722.9" y="464.9" style="font-size:17px;font-style:italic;letter-spacing:1.3px">dN</text><path d="M722.4 470.8H746.4" stroke="#000" stroke-width="1.7"/><text x="723.4" y="489.8" style="font-size:17px;font-style:italic;letter-spacing:1.3px">d</text><use href="#scE" xlink:href="#scE" transform="translate(733.4 489.8) scale(0.66)" stroke="#000"/><text x="757.2" y="478.4">[</text><use href="#scE" xlink:href="#scE" transform="translate(764.0 478.9) scale(0.95)" stroke="#000"/><text x="780.5" y="482.5" class="sub it">h</text><text x="791.4" y="468.5" class="sub">−1</text><text x="808.6" y="478.4">]</text>
</svg></body></html>
